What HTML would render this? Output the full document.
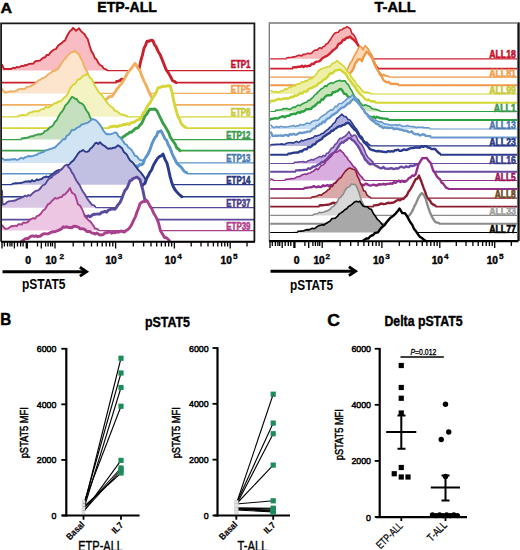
<!DOCTYPE html><html><head><meta charset="utf-8"><style>html,body{margin:0;padding:0;background:#fff;width:520px;height:550px;overflow:hidden}svg{display:block}text{font-family:"Liberation Sans",sans-serif}</style></head><body>
<svg width="520" height="550" viewBox="0 0 520 550">
<rect width="520" height="550" fill="#fff"/>
<text x="0.6" y="12.5" font-size="15" font-weight="bold" fill="#000" text-anchor="start" textLength="11.6" lengthAdjust="spacingAndGlyphs" stroke="#000" stroke-width="0.45" >A</text>
<text x="97.3" y="12.2" font-size="15" font-weight="bold" fill="#000" text-anchor="start" textLength="59.6" lengthAdjust="spacingAndGlyphs" stroke="#000" stroke-width="0.45" >ETP-ALL</text>
<text x="374.4" y="12.2" font-size="15" font-weight="bold" fill="#000" text-anchor="start" textLength="41.4" lengthAdjust="spacingAndGlyphs" stroke="#000" stroke-width="0.45" >T-ALL</text>
<path d="M2.0,70.6 L2.0,64.7 L4.0,69.0 L5.5,69.0 L7.0,69.0 L8.5,69.0 L10.0,69.0 L11.7,68.7 L13.3,67.7 L15.0,68.3 L16.7,66.9 L18.3,67.4 L20.0,66.8 L21.7,65.8 L23.3,66.2 L25.0,65.0 L26.7,65.3 L28.3,64.2 L30.0,63.9 L31.7,63.7 L33.3,63.6 L35.0,61.5 L36.7,60.9 L38.3,60.8 L40.0,60.6 L41.7,58.9 L43.4,57.5 L45.1,57.5 L46.8,54.8 L48.5,55.2 L50.0,53.0 L51.5,51.5 L53.0,50.3 L54.5,49.4 L56.0,49.1 L58.0,45.7 L60.0,44.1 L61.7,43.1 L63.3,41.4 L65.0,40.6 L66.7,36.7 L68.3,33.7 L70.0,31.0 L71.5,30.1 L73.0,27.9 L74.5,29.0 L76.0,30.8 L77.5,29.6 L79.0,28.3 L81.0,31.1 L83.0,32.9 L84.6,34.2 L86.1,37.0 L87.7,39.0 L89.6,45.7 L91.5,51.4 L93.2,53.9 L95.0,58.4 L96.5,59.3 L98.0,62.4 L99.9,65.0 L101.9,65.9 L103.8,68.5 L105.4,69.2 L106.9,69.9 L108.5,70.6 L108.5,70.6 Z" fill="#f8bcc2" stroke="none"/><path d="M2.0,70.6 L2.0,70.6 M108.5,70.6 L254.2,70.6 M106.9,70.6 L108.5,70.6" stroke="#c8202c" stroke-width="1.25" fill="none"/><path d="M2.0,64.7 L4.0,69.0 L5.5,69.0 L7.0,69.0 L8.5,69.0 L10.0,69.0 L11.7,68.7 L13.3,67.7 L15.0,68.3 L16.7,66.9 L18.3,67.4 L20.0,66.8 L21.7,65.8 L23.3,66.2 L25.0,65.0 L26.7,65.3 L28.3,64.2 L30.0,63.9 L31.7,63.7 L33.3,63.6 L35.0,61.5 L36.7,60.9 L38.3,60.8 L40.0,60.6 L41.7,58.9 L43.4,57.5 L45.1,57.5 L46.8,54.8 L48.5,55.2 L50.0,53.0 L51.5,51.5 L53.0,50.3 L54.5,49.4 L56.0,49.1 L58.0,45.7 L60.0,44.1 L61.7,43.1 L63.3,41.4 L65.0,40.6 L66.7,36.7 L68.3,33.7 L70.0,31.0 L71.5,30.1 L73.0,27.9 L74.5,29.0 L76.0,30.8 L77.5,29.6 L79.0,28.3 L81.0,31.1 L83.0,32.9 L84.6,34.2 L86.1,37.0 L87.7,39.0 L89.6,45.7 L91.5,51.4 L93.2,53.9 L95.0,58.4 L96.5,59.3 L98.0,62.4 L99.9,65.0 L101.9,65.9 L103.8,68.5 L105.4,69.2 L106.9,69.9" fill="none" stroke="#c8202c" stroke-width="1.9" stroke-linejoin="round" stroke-linecap="round"/>
<path d="M112.0,82.6 L112.0,82.6 L113.5,82.3 L115.0,82.0 L116.7,81.5 L118.3,81.1 L120.0,80.6 L121.7,79.1 L123.3,79.5 L125.0,79.0 L126.7,77.8 L128.3,77.5 L130.0,75.7 L131.7,75.7 L133.3,74.8 L135.0,74.1 L136.5,72.9 L138.0,72.6 L139.5,66.8 L141.0,60.0 L142.5,54.8 L144.0,48.2 L145.5,45.4 L147.0,41.3 L148.5,41.4 L150.0,40.6 L151.5,40.1 L153.0,40.8 L154.5,44.6 L156.0,46.6 L158.0,51.2 L160.0,54.4 L162.0,59.3 L164.0,64.2 L166.0,69.5 L168.0,72.3 L169.5,74.9 L171.0,77.5 L172.5,80.7 L174.2,81.3 L176.0,82.6 L176.0,82.6 Z" fill="#fff" stroke="none"/><path d="M2.0,82.6 L112.0,82.6 M176.0,82.6 L254.2,82.6 M112.0,82.6 L113.5,82.6 M113.5,82.6 L115.0,82.6 M115.0,82.6 L116.7,82.6" stroke="#c8202c" stroke-width="1.6" fill="none"/><path d="M116.7,81.5 L118.3,81.1 L120.0,80.6 L121.7,79.1 L123.3,79.5 L125.0,79.0 L126.7,77.8 L128.3,77.5 L130.0,75.7 L131.7,75.7 L133.3,74.8 L135.0,74.1 L136.5,72.9 L138.0,72.6 L139.5,66.8 L141.0,60.0 L142.5,54.8 L144.0,48.2 L145.5,45.4 L147.0,41.3 L148.5,41.4 L150.0,40.6 L151.5,40.1 L153.0,40.8 L154.5,44.6 L156.0,46.6 L158.0,51.2 L160.0,54.4 L162.0,59.3 L164.0,64.2 L166.0,69.5 L168.0,72.3 L169.5,74.9 L171.0,77.5 L172.5,80.7 L174.2,81.3 L176.0,82.6" fill="none" stroke="#c8202c" stroke-width="2.9" stroke-linejoin="round" stroke-linecap="round"/>
<path d="M2.0,93.4 L2.0,88.8 L3.5,91.0 L5.0,92.5 L6.7,92.2 L8.3,91.9 L10.0,91.5 L11.7,91.3 L13.3,91.6 L15.0,91.2 L16.7,90.8 L18.3,89.3 L20.0,89.1 L21.7,88.6 L23.3,89.1 L25.0,88.8 L26.7,87.0 L28.3,86.7 L30.0,86.4 L31.7,85.3 L33.3,84.6 L35.0,83.6 L36.7,81.9 L38.3,80.3 L40.0,79.9 L41.7,78.6 L43.3,77.8 L45.0,77.3 L46.7,75.7 L48.3,74.2 L50.0,73.2 L51.5,72.4 L53.1,70.4 L54.6,71.0 L56.2,69.9 L57.7,69.2 L59.2,67.0 L60.8,64.3 L62.3,62.3 L63.9,59.8 L65.4,58.7 L66.9,56.1 L68.5,54.6 L70.0,53.3 L71.5,52.4 L73.1,52.0 L74.6,50.7 L76.1,51.9 L77.7,53.5 L79.2,54.7 L80.7,58.2 L82.3,60.7 L83.8,65.3 L85.8,69.4 L87.7,73.2 L89.8,79.4 L92.0,85.5 L94.0,88.7 L96.0,92.0 L98.0,92.7 L100.0,93.4 L100.0,93.4 Z" fill="#fde4cc" stroke="none"/><path d="M2.0,93.4 L2.0,93.4 M100.0,93.4 L254.2,93.4 M98.0,93.4 L100.0,93.4" stroke="#f0b060" stroke-width="1.25" fill="none"/><path d="M2.0,88.8 L3.5,91.0 L5.0,92.5 L6.7,92.2 L8.3,91.9 L10.0,91.5 L11.7,91.3 L13.3,91.6 L15.0,91.2 L16.7,90.8 L18.3,89.3 L20.0,89.1 L21.7,88.6 L23.3,89.1 L25.0,88.8 L26.7,87.0 L28.3,86.7 L30.0,86.4 L31.7,85.3 L33.3,84.6 L35.0,83.6 L36.7,81.9 L38.3,80.3 L40.0,79.9 L41.7,78.6 L43.3,77.8 L45.0,77.3 L46.7,75.7 L48.3,74.2 L50.0,73.2 L51.5,72.4 L53.1,70.4 L54.6,71.0 L56.2,69.9 L57.7,69.2 L59.2,67.0 L60.8,64.3 L62.3,62.3 L63.9,59.8 L65.4,58.7 L66.9,56.1 L68.5,54.6 L70.0,53.3 L71.5,52.4 L73.1,52.0 L74.6,50.7 L76.1,51.9 L77.7,53.5 L79.2,54.7 L80.7,58.2 L82.3,60.7 L83.8,65.3 L85.8,69.4 L87.7,73.2 L89.8,79.4 L92.0,85.5 L94.0,88.7 L96.0,92.0 L98.0,92.7" fill="none" stroke="#f0b060" stroke-width="1.9" stroke-linejoin="round" stroke-linecap="round"/>
<path d="M45.0,104.9 L45.0,104.9 L46.7,104.8 L48.3,104.6 L50.0,104.5 L51.5,104.4 L53.0,104.3 L54.5,104.3 L56.0,104.2 L57.5,104.1 L59.0,104.0 L60.5,104.0 L62.0,103.9 L63.5,103.8 L65.0,103.8 L66.5,103.7 L68.0,103.6 L69.5,103.5 L71.0,103.5 L72.5,103.4 L74.0,103.3 L75.5,103.2 L77.0,103.2 L78.5,103.1 L80.0,103.0 L81.5,102.9 L83.1,102.2 L84.6,103.4 L86.2,103.6 L87.7,102.6 L89.2,102.5 L90.8,101.7 L92.3,101.7 L93.8,102.0 L95.4,101.8 L96.9,102.7 L98.5,101.5 L100.0,101.1 L102.0,102.3 L104.0,101.1 L105.6,99.2 L107.2,98.8 L108.8,96.8 L110.4,96.6 L112.0,96.3 L113.6,94.1 L115.2,91.9 L116.8,89.2 L118.4,87.5 L120.0,85.2 L121.5,83.8 L123.0,81.0 L124.5,79.0 L126.0,75.7 L128.0,72.2 L130.0,70.0 L131.7,68.0 L133.3,65.6 L135.0,63.3 L136.7,66.1 L138.3,68.9 L140.0,70.8 L141.7,75.5 L143.3,79.4 L145.0,83.0 L146.7,86.5 L148.3,90.5 L150.0,94.0 L151.7,97.3 L153.3,100.3 L155.0,101.9 L156.5,103.5 L158.0,104.9 L158.0,104.9 Z" fill="#fff" stroke="none"/><path d="M2.0,104.9 L45.0,104.9 M158.0,104.9 L254.2,104.9 M45.0,104.9 L46.7,104.9 M46.7,104.9 L48.3,104.9 M48.3,104.9 L50.0,104.9 M50.0,104.9 L51.5,104.9 M51.5,104.9 L53.0,104.9 M53.0,104.9 L54.5,104.9 M54.5,104.9 L56.0,104.9 M56.0,104.9 L57.5,104.9 M57.5,104.9 L59.0,104.9 M59.0,104.9 L60.5,104.9 M60.5,104.9 L62.0,104.9 M62.0,104.9 L63.5,104.9 M63.5,104.9 L65.0,104.9" stroke="#f0b060" stroke-width="1.6" fill="none"/><path d="M65.0,103.8 L66.5,103.7 L68.0,103.6 L69.5,103.5 L71.0,103.5 L72.5,103.4 L74.0,103.3 L75.5,103.2 L77.0,103.2 L78.5,103.1 L80.0,103.0 L81.5,102.9 L83.1,102.2 L84.6,103.4 L86.2,103.6 L87.7,102.6 L89.2,102.5 L90.8,101.7 L92.3,101.7 L93.8,102.0 L95.4,101.8 L96.9,102.7 L98.5,101.5 L100.0,101.1 L102.0,102.3 L104.0,101.1 L105.6,99.2 L107.2,98.8 L108.8,96.8 L110.4,96.6 L112.0,96.3 L113.6,94.1 L115.2,91.9 L116.8,89.2 L118.4,87.5 L120.0,85.2 L121.5,83.8 L123.0,81.0 L124.5,79.0 L126.0,75.7 L128.0,72.2 L130.0,70.0 L131.7,68.0 L133.3,65.6 L135.0,63.3 L136.7,66.1 L138.3,68.9 L140.0,70.8 L141.7,75.5 L143.3,79.4 L145.0,83.0 L146.7,86.5 L148.3,90.5 L150.0,94.0 L151.7,97.3 L153.3,100.3 L155.0,101.9 L156.5,103.5 L158.0,104.9" fill="none" stroke="#f0b060" stroke-width="2.9" stroke-linejoin="round" stroke-linecap="round"/>
<path d="M2.0,116.8 L2.0,116.8 L3.5,116.7 L5.0,116.6 L6.5,116.5 L8.0,116.4 L9.5,116.3 L11.0,116.2 L12.5,116.1 L14.0,116.0 L15.5,115.9 L17.0,115.8 L18.5,115.7 L20.0,115.6 L21.5,115.2 L23.0,114.8 L24.5,115.2 L26.0,114.9 L27.5,114.5 L29.0,113.0 L30.5,112.4 L32.0,112.0 L33.5,111.5 L35.0,111.2 L36.5,111.4 L38.0,111.3 L39.5,110.6 L41.0,109.4 L42.5,109.1 L44.0,108.8 L45.5,107.0 L47.0,107.4 L48.5,107.3 L50.0,106.5 L51.7,105.6 L53.3,104.3 L55.0,102.9 L56.7,103.2 L58.3,101.5 L60.0,101.5 L61.8,100.5 L63.6,98.1 L65.4,96.8 L66.9,95.2 L68.5,92.2 L70.0,88.6 L71.5,86.6 L73.1,84.7 L74.7,84.2 L76.2,82.1 L77.7,79.5 L79.2,79.4 L80.8,78.4 L82.3,76.5 L83.8,75.4 L85.4,75.2 L86.9,73.9 L88.4,75.0 L90.0,78.0 L91.5,78.8 L93.1,81.7 L94.6,85.6 L96.2,87.9 L98.1,91.2 L100.0,93.6 L101.5,94.6 L103.0,96.8 L104.5,99.0 L106.0,101.0 L108.0,103.9 L110.0,105.6 L111.5,107.1 L113.0,107.8 L114.5,110.5 L116.0,110.7 L117.5,111.8 L119.0,112.9 L120.5,114.4 L122.0,114.4 L123.7,115.0 L125.3,115.5 L127.0,116.0 L128.7,116.1 L130.3,116.3 L132.0,116.4 L133.7,116.5 L135.3,116.7 L137.0,116.8 L137.0,116.8 Z" fill="#f3f3c4" stroke="none"/><path d="M2.0,116.8 L2.0,116.8 M137.0,116.8 L254.2,116.8 M2.0,116.8 L3.5,116.8 M3.5,116.8 L5.0,116.8 M5.0,116.8 L6.5,116.8 M6.5,116.8 L8.0,116.8 M8.0,116.8 L9.5,116.8 M9.5,116.8 L11.0,116.8 M11.0,116.8 L12.5,116.8 M12.5,116.8 L14.0,116.8 M14.0,116.8 L15.5,116.8 M15.5,116.8 L17.0,116.8 M17.0,116.8 L18.5,116.8 M127.0,116.8 L128.7,116.8 M128.7,116.8 L130.3,116.8 M130.3,116.8 L132.0,116.8 M132.0,116.8 L133.7,116.8 M133.7,116.8 L135.3,116.8 M135.3,116.8 L137.0,116.8" stroke="#d6d638" stroke-width="1.25" fill="none"/><path d="M18.5,115.7 L20.0,115.6 L21.5,115.2 L23.0,114.8 L24.5,115.2 L26.0,114.9 L27.5,114.5 L29.0,113.0 L30.5,112.4 L32.0,112.0 L33.5,111.5 L35.0,111.2 L36.5,111.4 L38.0,111.3 L39.5,110.6 L41.0,109.4 L42.5,109.1 L44.0,108.8 L45.5,107.0 L47.0,107.4 L48.5,107.3 L50.0,106.5 L51.7,105.6 L53.3,104.3 L55.0,102.9 L56.7,103.2 L58.3,101.5 L60.0,101.5 L61.8,100.5 L63.6,98.1 L65.4,96.8 L66.9,95.2 L68.5,92.2 L70.0,88.6 L71.5,86.6 L73.1,84.7 L74.7,84.2 L76.2,82.1 L77.7,79.5 L79.2,79.4 L80.8,78.4 L82.3,76.5 L83.8,75.4 L85.4,75.2 L86.9,73.9 L88.4,75.0 L90.0,78.0 L91.5,78.8 L93.1,81.7 L94.6,85.6 L96.2,87.9 L98.1,91.2 L100.0,93.6 L101.5,94.6 L103.0,96.8 L104.5,99.0 L106.0,101.0 L108.0,103.9 L110.0,105.6 L111.5,107.1 L113.0,107.8 L114.5,110.5 L116.0,110.7 L117.5,111.8 L119.0,112.9 L120.5,114.4 L122.0,114.4 L123.7,115.0 L125.3,115.5 L127.0,116.0" fill="none" stroke="#d6d638" stroke-width="1.9" stroke-linejoin="round" stroke-linecap="round"/>
<path d="M50.0,128.1 L50.0,128.1 L51.5,128.1 L53.1,128.1 L54.6,128.0 L56.1,128.0 L57.6,128.0 L59.2,128.0 L60.7,128.0 L62.2,128.0 L63.8,127.9 L65.3,127.9 L66.8,127.9 L68.3,127.9 L69.9,127.9 L71.4,127.9 L72.9,127.8 L74.4,127.8 L76.0,127.8 L77.5,127.8 L79.0,127.8 L80.6,127.8 L82.1,127.8 L83.6,127.7 L85.1,127.7 L86.7,127.7 L88.2,127.7 L89.7,127.7 L91.2,127.7 L92.8,127.6 L94.3,127.6 L95.8,127.6 L97.4,127.6 L98.9,127.6 L100.4,127.5 L101.9,127.5 L103.5,127.5 L105.0,127.5 L106.5,127.3 L108.1,127.1 L109.6,126.9 L111.1,126.7 L112.7,126.5 L114.2,126.3 L115.7,126.1 L117.3,126.7 L118.8,125.8 L120.3,125.6 L121.9,125.4 L123.4,124.3 L124.9,124.9 L126.5,124.2 L128.0,123.7 L129.5,124.4 L131.0,122.6 L132.5,122.5 L134.0,122.2 L135.5,121.2 L137.0,120.1 L138.5,119.7 L140.0,119.1 L141.7,116.8 L143.3,113.0 L145.0,111.1 L146.7,107.7 L148.3,104.9 L150.0,103.0 L151.7,99.7 L153.3,96.9 L155.0,94.5 L156.5,91.7 L158.0,87.9 L160.0,87.5 L162.0,86.5 L164.0,86.3 L166.0,86.3 L168.0,85.7 L170.0,85.6 L172.0,92.0 L173.5,99.8 L175.0,106.4 L176.5,111.7 L178.0,116.8 L179.5,119.1 L181.0,123.1 L182.7,125.3 L184.3,126.6 L186.0,127.5 L188.0,127.8 L190.0,128.1 L190.0,128.1 Z" fill="#fff" stroke="none"/><path d="M2.0,128.1 L50.0,128.1 M190.0,128.1 L254.2,128.1 M50.0,128.1 L51.5,128.1 M51.5,128.1 L53.1,128.1 M53.1,128.1 L54.6,128.1 M54.6,128.1 L56.1,128.1 M56.1,128.1 L57.6,128.1 M57.6,128.1 L59.2,128.1 M59.2,128.1 L60.7,128.1 M60.7,128.1 L62.2,128.1 M62.2,128.1 L63.8,128.1 M63.8,128.1 L65.3,128.1 M65.3,128.1 L66.8,128.1 M66.8,128.1 L68.3,128.1 M68.3,128.1 L69.9,128.1 M69.9,128.1 L71.4,128.1 M71.4,128.1 L72.9,128.1 M72.9,128.1 L74.4,128.1 M74.4,128.1 L76.0,128.1 M76.0,128.1 L77.5,128.1 M77.5,128.1 L79.0,128.1 M79.0,128.1 L80.6,128.1 M80.6,128.1 L82.1,128.1 M82.1,128.1 L83.6,128.1 M83.6,128.1 L85.1,128.1 M85.1,128.1 L86.7,128.1 M86.7,128.1 L88.2,128.1 M88.2,128.1 L89.7,128.1 M89.7,128.1 L91.2,128.1 M91.2,128.1 L92.8,128.1 M92.8,128.1 L94.3,128.1 M94.3,128.1 L95.8,128.1 M95.8,128.1 L97.4,128.1 M97.4,128.1 L98.9,128.1 M98.9,128.1 L100.4,128.1 M100.4,128.1 L101.9,128.1 M101.9,128.1 L103.5,128.1 M103.5,128.1 L105.0,128.1 M105.0,128.1 L106.5,128.1 M106.5,128.1 L108.1,128.1 M108.1,128.1 L109.6,128.1 M186.0,128.1 L188.0,128.1 M188.0,128.1 L190.0,128.1" stroke="#d6d638" stroke-width="1.6" fill="none"/><path d="M109.6,126.9 L111.1,126.7 L112.7,126.5 L114.2,126.3 L115.7,126.1 L117.3,126.7 L118.8,125.8 L120.3,125.6 L121.9,125.4 L123.4,124.3 L124.9,124.9 L126.5,124.2 L128.0,123.7 L129.5,124.4 L131.0,122.6 L132.5,122.5 L134.0,122.2 L135.5,121.2 L137.0,120.1 L138.5,119.7 L140.0,119.1 L141.7,116.8 L143.3,113.0 L145.0,111.1 L146.7,107.7 L148.3,104.9 L150.0,103.0 L151.7,99.7 L153.3,96.9 L155.0,94.5 L156.5,91.7 L158.0,87.9 L160.0,87.5 L162.0,86.5 L164.0,86.3 L166.0,86.3 L168.0,85.7 L170.0,85.6 L172.0,92.0 L173.5,99.8 L175.0,106.4 L176.5,111.7 L178.0,116.8 L179.5,119.1 L181.0,123.1 L182.7,125.3 L184.3,126.6 L186.0,127.5" fill="none" stroke="#d6d638" stroke-width="2.9" stroke-linejoin="round" stroke-linecap="round"/>
<path d="M2.0,139.5 L2.0,139.2 L3.5,139.2 L5.0,139.1 L6.5,139.1 L8.0,139.0 L9.5,139.0 L11.0,138.9 L12.5,138.9 L14.0,138.9 L15.5,138.8 L17.0,138.8 L18.5,138.7 L20.0,138.7 L21.7,138.5 L23.3,138.2 L25.0,138.0 L26.7,137.8 L28.3,137.5 L30.0,136.6 L31.7,136.1 L33.3,136.2 L35.0,135.1 L36.7,134.9 L38.3,134.1 L40.0,134.7 L41.7,133.9 L43.3,133.2 L45.0,130.9 L46.7,130.6 L48.3,129.3 L50.0,127.1 L51.7,126.6 L53.3,124.9 L55.0,121.8 L56.8,120.2 L58.5,116.4 L60.2,113.7 L62.0,111.7 L63.7,109.1 L65.3,105.7 L67.0,103.9 L68.7,101.8 L70.3,99.2 L72.0,96.8 L73.5,97.5 L75.0,98.7 L76.7,99.0 L78.3,101.5 L80.0,102.9 L82.0,103.6 L84.0,105.7 L85.5,108.8 L87.0,111.3 L88.5,113.1 L90.0,117.4 L91.7,119.6 L93.3,122.5 L95.0,123.5 L96.7,126.0 L98.3,127.9 L100.0,131.5 L101.7,132.6 L103.3,134.3 L105.0,136.9 L106.7,137.8 L108.3,138.7 L110.0,139.5 L110.0,139.5 Z" fill="#c4e0bf" stroke="none"/><path d="M2.0,139.5 L2.0,139.5 M110.0,139.5 L254.2,139.5 M2.0,139.5 L3.5,139.5 M3.5,139.5 L5.0,139.5 M5.0,139.5 L6.5,139.5 M6.5,139.5 L8.0,139.5 M8.0,139.5 L9.5,139.5 M9.5,139.5 L11.0,139.5 M11.0,139.5 L12.5,139.5 M12.5,139.5 L14.0,139.5 M14.0,139.5 L15.5,139.5 M15.5,139.5 L17.0,139.5 M17.0,139.5 L18.5,139.5 M18.5,139.5 L20.0,139.5 M20.0,139.5 L21.7,139.5 M108.3,139.5 L110.0,139.5" stroke="#3aa048" stroke-width="1.25" fill="none"/><path d="M21.7,138.5 L23.3,138.2 L25.0,138.0 L26.7,137.8 L28.3,137.5 L30.0,136.6 L31.7,136.1 L33.3,136.2 L35.0,135.1 L36.7,134.9 L38.3,134.1 L40.0,134.7 L41.7,133.9 L43.3,133.2 L45.0,130.9 L46.7,130.6 L48.3,129.3 L50.0,127.1 L51.7,126.6 L53.3,124.9 L55.0,121.8 L56.8,120.2 L58.5,116.4 L60.2,113.7 L62.0,111.7 L63.7,109.1 L65.3,105.7 L67.0,103.9 L68.7,101.8 L70.3,99.2 L72.0,96.8 L73.5,97.5 L75.0,98.7 L76.7,99.0 L78.3,101.5 L80.0,102.9 L82.0,103.6 L84.0,105.7 L85.5,108.8 L87.0,111.3 L88.5,113.1 L90.0,117.4 L91.7,119.6 L93.3,122.5 L95.0,123.5 L96.7,126.0 L98.3,127.9 L100.0,131.5 L101.7,132.6 L103.3,134.3 L105.0,136.9 L106.7,137.8 L108.3,138.7" fill="none" stroke="#3aa048" stroke-width="1.9" stroke-linejoin="round" stroke-linecap="round"/>
<path d="M48.0,150.6 L48.0,150.5 L49.5,150.4 L51.0,150.2 L52.5,150.1 L54.0,150.0 L55.5,149.9 L57.0,149.8 L58.5,149.6 L60.0,149.5 L61.5,149.3 L63.1,149.1 L64.6,148.9 L66.2,148.7 L67.7,149.3 L69.2,148.9 L70.8,147.7 L72.3,147.3 L73.8,148.5 L75.4,147.7 L76.9,147.7 L78.5,146.5 L80.0,146.2 L81.5,147.0 L83.1,146.3 L84.6,145.3 L86.2,146.6 L87.7,145.7 L89.2,145.7 L90.8,144.1 L92.3,145.2 L93.8,143.5 L95.4,144.6 L96.9,143.5 L98.5,143.0 L100.0,143.1 L101.5,143.5 L103.0,142.0 L104.5,141.4 L106.0,141.8 L107.5,141.0 L109.0,140.5 L110.5,140.3 L112.0,139.8 L113.5,139.8 L115.0,139.7 L116.8,139.1 L118.5,139.5 L120.2,138.1 L122.0,138.0 L123.5,136.5 L125.0,135.8 L126.5,134.3 L128.0,133.8 L129.8,132.1 L131.5,132.2 L133.2,130.7 L135.0,128.8 L136.7,128.1 L138.3,127.6 L140.0,124.9 L141.5,123.8 L143.0,120.7 L145.0,116.0 L146.7,114.3 L148.3,111.3 L150.0,109.2 L151.5,109.1 L153.0,109.2 L155.0,109.0 L157.0,110.8 L158.5,114.0 L160.0,117.2 L161.5,120.2 L163.0,123.4 L165.0,126.2 L167.0,129.7 L168.7,132.8 L170.3,137.2 L172.0,139.6 L173.7,142.0 L175.3,144.4 L177.0,148.3 L178.5,149.1 L180.0,150.6 L180.0,150.6 Z" fill="#fff" stroke="none"/><path d="M2.0,150.6 L48.0,150.6 M180.0,150.6 L254.2,150.6 M48.0,150.6 L49.5,150.6 M49.5,150.6 L51.0,150.6 M51.0,150.6 L52.5,150.6 M52.5,150.6 L54.0,150.6 M54.0,150.6 L55.5,150.6 M55.5,150.6 L57.0,150.6 M57.0,150.6 L58.5,150.6 M58.5,150.6 L60.0,150.6" stroke="#3aa048" stroke-width="1.6" fill="none"/><path d="M60.0,149.5 L61.5,149.3 L63.1,149.1 L64.6,148.9 L66.2,148.7 L67.7,149.3 L69.2,148.9 L70.8,147.7 L72.3,147.3 L73.8,148.5 L75.4,147.7 L76.9,147.7 L78.5,146.5 L80.0,146.2 L81.5,147.0 L83.1,146.3 L84.6,145.3 L86.2,146.6 L87.7,145.7 L89.2,145.7 L90.8,144.1 L92.3,145.2 L93.8,143.5 L95.4,144.6 L96.9,143.5 L98.5,143.0 L100.0,143.1 L101.5,143.5 L103.0,142.0 L104.5,141.4 L106.0,141.8 L107.5,141.0 L109.0,140.5 L110.5,140.3 L112.0,139.8 L113.5,139.8 L115.0,139.7 L116.8,139.1 L118.5,139.5 L120.2,138.1 L122.0,138.0 L123.5,136.5 L125.0,135.8 L126.5,134.3 L128.0,133.8 L129.8,132.1 L131.5,132.2 L133.2,130.7 L135.0,128.8 L136.7,128.1 L138.3,127.6 L140.0,124.9 L141.5,123.8 L143.0,120.7 L145.0,116.0 L146.7,114.3 L148.3,111.3 L150.0,109.2 L151.5,109.1 L153.0,109.2 L155.0,109.0 L157.0,110.8 L158.5,114.0 L160.0,117.2 L161.5,120.2 L163.0,123.4 L165.0,126.2 L167.0,129.7 L168.7,132.8 L170.3,137.2 L172.0,139.6 L173.7,142.0 L175.3,144.4 L177.0,148.3 L178.5,149.1 L180.0,150.6" fill="none" stroke="#3aa048" stroke-width="2.9" stroke-linejoin="round" stroke-linecap="round"/>
<path d="M2.0,162.9 L2.0,158.2 L3.5,159.3 L5.0,160.0 L6.7,159.8 L8.3,159.7 L10.0,159.8 L11.7,159.1 L13.3,159.5 L15.0,159.0 L16.7,159.9 L18.3,159.6 L20.0,158.5 L21.7,157.7 L23.3,158.7 L25.0,157.2 L26.7,156.9 L28.3,156.0 L30.0,156.3 L31.7,156.2 L33.3,155.9 L35.0,155.1 L36.7,155.0 L38.3,153.4 L40.0,153.2 L41.7,152.3 L43.3,152.2 L45.0,150.9 L46.7,150.1 L48.3,149.8 L50.0,148.9 L51.7,148.7 L53.3,147.8 L55.0,147.5 L56.7,145.6 L58.3,144.1 L60.0,142.7 L61.7,140.6 L63.3,139.2 L65.0,139.2 L66.8,135.7 L68.5,134.9 L70.2,132.8 L72.0,129.8 L73.6,130.2 L75.2,129.4 L76.8,127.9 L78.4,127.2 L80.0,126.4 L81.6,124.4 L83.2,124.3 L84.8,123.5 L86.4,123.4 L88.0,122.5 L89.7,121.4 L91.3,119.8 L93.0,119.2 L94.5,119.6 L96.0,120.3 L98.0,122.3 L100.0,124.8 L101.7,127.5 L103.3,130.5 L105.0,132.6 L106.7,134.2 L108.3,134.0 L110.0,134.4 L111.7,133.8 L113.3,133.3 L115.0,132.3 L116.7,133.0 L118.3,136.0 L120.0,137.4 L121.7,139.3 L123.3,141.6 L125.0,144.1 L126.7,144.7 L128.3,147.5 L130.0,148.3 L131.7,150.2 L133.3,152.7 L135.0,155.8 L136.7,156.1 L138.3,158.4 L140.0,160.1 L141.7,160.1 L143.3,161.1 L145.0,162.0 L146.5,162.4 L148.0,162.9 L148.0,162.9 Z" fill="#d0e4f4" stroke="none"/><path d="M2.0,162.9 L2.0,162.9 M148.0,162.9 L254.2,162.9 M145.0,162.9 L146.5,162.9 M146.5,162.9 L148.0,162.9" stroke="#5c94cc" stroke-width="1.25" fill="none"/><path d="M2.0,158.2 L3.5,159.3 L5.0,160.0 L6.7,159.8 L8.3,159.7 L10.0,159.8 L11.7,159.1 L13.3,159.5 L15.0,159.0 L16.7,159.9 L18.3,159.6 L20.0,158.5 L21.7,157.7 L23.3,158.7 L25.0,157.2 L26.7,156.9 L28.3,156.0 L30.0,156.3 L31.7,156.2 L33.3,155.9 L35.0,155.1 L36.7,155.0 L38.3,153.4 L40.0,153.2 L41.7,152.3 L43.3,152.2 L45.0,150.9 L46.7,150.1 L48.3,149.8 L50.0,148.9 L51.7,148.7 L53.3,147.8 L55.0,147.5 L56.7,145.6 L58.3,144.1 L60.0,142.7 L61.7,140.6 L63.3,139.2 L65.0,139.2 L66.8,135.7 L68.5,134.9 L70.2,132.8 L72.0,129.8 L73.6,130.2 L75.2,129.4 L76.8,127.9 L78.4,127.2 L80.0,126.4 L81.6,124.4 L83.2,124.3 L84.8,123.5 L86.4,123.4 L88.0,122.5 L89.7,121.4 L91.3,119.8 L93.0,119.2 L94.5,119.6 L96.0,120.3 L98.0,122.3 L100.0,124.8 L101.7,127.5 L103.3,130.5 L105.0,132.6 L106.7,134.2 L108.3,134.0 L110.0,134.4 L111.7,133.8 L113.3,133.3 L115.0,132.3 L116.7,133.0 L118.3,136.0 L120.0,137.4 L121.7,139.3 L123.3,141.6 L125.0,144.1 L126.7,144.7 L128.3,147.5 L130.0,148.3 L131.7,150.2 L133.3,152.7 L135.0,155.8 L136.7,156.1 L138.3,158.4 L140.0,160.1 L141.7,160.1 L143.3,161.1 L145.0,162.0" fill="none" stroke="#5c94cc" stroke-width="1.9" stroke-linejoin="round" stroke-linecap="round"/>
<path d="M55.0,173.7 L55.0,173.7 L56.5,173.6 L58.0,173.6 L59.5,173.5 L61.0,173.5 L62.5,173.4 L64.0,173.4 L65.5,173.3 L67.0,173.2 L68.5,173.2 L70.0,173.1 L71.5,173.1 L73.0,173.0 L74.5,173.0 L76.0,172.9 L77.5,172.8 L79.0,172.8 L80.5,172.7 L82.0,172.7 L83.5,172.6 L85.0,172.6 L86.5,172.5 L88.0,172.5 L89.5,172.4 L91.0,172.3 L92.5,172.3 L94.0,172.2 L95.5,172.2 L97.0,172.1 L98.5,172.1 L100.0,172.0 L101.5,171.8 L103.0,171.4 L104.5,171.4 L106.0,171.5 L107.5,171.5 L109.0,171.0 L110.5,170.9 L112.0,169.6 L113.5,169.6 L115.0,169.6 L116.5,170.2 L118.0,169.2 L119.5,169.5 L121.0,168.3 L122.5,168.2 L124.0,168.4 L125.5,168.9 L127.0,168.7 L128.5,168.5 L130.0,167.6 L131.6,167.6 L133.2,167.1 L134.8,166.7 L136.4,165.7 L138.0,166.7 L139.7,164.5 L141.3,164.9 L143.0,163.8 L144.7,159.0 L146.3,156.6 L148.0,154.1 L150.0,149.5 L152.0,143.7 L153.5,140.5 L155.0,137.5 L156.5,136.0 L158.0,131.8 L159.5,131.9 L161.0,130.7 L163.0,134.7 L165.0,138.8 L166.7,140.6 L168.3,145.0 L170.0,147.7 L171.7,152.5 L173.3,156.3 L175.0,159.5 L176.7,163.0 L178.3,164.6 L180.0,166.1 L181.7,167.8 L183.3,170.3 L185.0,172.0 L186.7,172.6 L188.3,173.1 L190.0,173.7 L190.0,173.7 Z" fill="#fff" stroke="none"/><path d="M2.0,173.7 L55.0,173.7 M190.0,173.7 L254.2,173.7 M55.0,173.7 L56.5,173.7 M56.5,173.7 L58.0,173.7 M58.0,173.7 L59.5,173.7 M59.5,173.7 L61.0,173.7 M61.0,173.7 L62.5,173.7 M62.5,173.7 L64.0,173.7 M64.0,173.7 L65.5,173.7 M65.5,173.7 L67.0,173.7 M67.0,173.7 L68.5,173.7 M68.5,173.7 L70.0,173.7 M70.0,173.7 L71.5,173.7 M71.5,173.7 L73.0,173.7 M73.0,173.7 L74.5,173.7 M74.5,173.7 L76.0,173.7 M76.0,173.7 L77.5,173.7 M77.5,173.7 L79.0,173.7 M79.0,173.7 L80.5,173.7 M80.5,173.7 L82.0,173.7 M82.0,173.7 L83.5,173.7 M83.5,173.7 L85.0,173.7 M85.0,173.7 L86.5,173.7 M186.7,173.7 L188.3,173.7 M188.3,173.7 L190.0,173.7" stroke="#5c94cc" stroke-width="1.6" fill="none"/><path d="M86.5,172.5 L88.0,172.5 L89.5,172.4 L91.0,172.3 L92.5,172.3 L94.0,172.2 L95.5,172.2 L97.0,172.1 L98.5,172.1 L100.0,172.0 L101.5,171.8 L103.0,171.4 L104.5,171.4 L106.0,171.5 L107.5,171.5 L109.0,171.0 L110.5,170.9 L112.0,169.6 L113.5,169.6 L115.0,169.6 L116.5,170.2 L118.0,169.2 L119.5,169.5 L121.0,168.3 L122.5,168.2 L124.0,168.4 L125.5,168.9 L127.0,168.7 L128.5,168.5 L130.0,167.6 L131.6,167.6 L133.2,167.1 L134.8,166.7 L136.4,165.7 L138.0,166.7 L139.7,164.5 L141.3,164.9 L143.0,163.8 L144.7,159.0 L146.3,156.6 L148.0,154.1 L150.0,149.5 L152.0,143.7 L153.5,140.5 L155.0,137.5 L156.5,136.0 L158.0,131.8 L159.5,131.9 L161.0,130.7 L163.0,134.7 L165.0,138.8 L166.7,140.6 L168.3,145.0 L170.0,147.7 L171.7,152.5 L173.3,156.3 L175.0,159.5 L176.7,163.0 L178.3,164.6 L180.0,166.1 L181.7,167.8 L183.3,170.3 L185.0,172.0 L186.7,172.6" fill="none" stroke="#5c94cc" stroke-width="2.9" stroke-linejoin="round" stroke-linecap="round"/>
<path d="M2.0,184.7 L2.0,184.4 L3.5,184.3 L5.0,184.2 L6.5,184.1 L8.0,183.9 L9.5,183.8 L11.0,183.7 L12.5,183.6 L14.0,183.5 L15.5,183.3 L17.0,183.2 L18.5,183.1 L20.0,183.0 L21.5,182.8 L23.0,182.4 L24.5,181.9 L26.0,181.4 L27.5,181.5 L29.0,181.2 L30.5,181.9 L32.0,180.1 L33.5,181.2 L35.0,181.1 L36.7,179.3 L38.3,180.2 L40.0,179.2 L41.7,179.0 L43.3,177.4 L45.0,177.0 L46.7,176.5 L48.3,177.2 L50.0,176.0 L51.7,174.4 L53.3,173.5 L55.0,172.1 L56.8,170.8 L58.5,170.0 L60.2,170.5 L62.0,168.6 L63.6,168.8 L65.2,166.6 L66.8,165.7 L68.4,165.2 L70.0,163.6 L71.7,161.7 L73.3,160.6 L75.0,158.2 L76.7,155.8 L78.3,153.3 L80.0,151.5 L81.5,151.1 L83.0,149.9 L85.0,151.6 L87.0,151.9 L88.7,151.2 L90.3,148.8 L92.0,147.5 L93.5,145.7 L95.0,143.4 L96.7,142.7 L98.3,144.0 L100.0,142.2 L101.7,144.1 L103.3,145.2 L105.0,146.3 L106.7,147.8 L108.3,148.9 L110.0,148.3 L111.7,148.6 L113.3,147.7 L115.0,147.8 L116.5,146.6 L118.0,145.2 L120.0,146.6 L122.0,148.2 L123.7,151.7 L125.3,153.2 L127.0,154.9 L128.7,158.3 L130.3,160.7 L132.0,161.9 L133.7,163.6 L135.3,166.0 L137.0,168.1 L138.7,170.4 L140.3,171.9 L142.0,174.1 L143.7,176.4 L145.3,179.2 L147.0,182.0 L148.7,182.9 L150.3,183.6 L152.0,184.7 L152.0,184.7 Z" fill="#c2c0e2" stroke="none"/><path d="M2.0,184.7 L2.0,184.7 M152.0,184.7 L254.2,184.7 M2.0,184.7 L3.5,184.7 M3.5,184.7 L5.0,184.7 M5.0,184.7 L6.5,184.7 M6.5,184.7 L8.0,184.7 M8.0,184.7 L9.5,184.7 M9.5,184.7 L11.0,184.7 M11.0,184.7 L12.5,184.7 M150.3,184.7 L152.0,184.7" stroke="#2a3a8c" stroke-width="1.25" fill="none"/><path d="M12.5,183.6 L14.0,183.5 L15.5,183.3 L17.0,183.2 L18.5,183.1 L20.0,183.0 L21.5,182.8 L23.0,182.4 L24.5,181.9 L26.0,181.4 L27.5,181.5 L29.0,181.2 L30.5,181.9 L32.0,180.1 L33.5,181.2 L35.0,181.1 L36.7,179.3 L38.3,180.2 L40.0,179.2 L41.7,179.0 L43.3,177.4 L45.0,177.0 L46.7,176.5 L48.3,177.2 L50.0,176.0 L51.7,174.4 L53.3,173.5 L55.0,172.1 L56.8,170.8 L58.5,170.0 L60.2,170.5 L62.0,168.6 L63.6,168.8 L65.2,166.6 L66.8,165.7 L68.4,165.2 L70.0,163.6 L71.7,161.7 L73.3,160.6 L75.0,158.2 L76.7,155.8 L78.3,153.3 L80.0,151.5 L81.5,151.1 L83.0,149.9 L85.0,151.6 L87.0,151.9 L88.7,151.2 L90.3,148.8 L92.0,147.5 L93.5,145.7 L95.0,143.4 L96.7,142.7 L98.3,144.0 L100.0,142.2 L101.7,144.1 L103.3,145.2 L105.0,146.3 L106.7,147.8 L108.3,148.9 L110.0,148.3 L111.7,148.6 L113.3,147.7 L115.0,147.8 L116.5,146.6 L118.0,145.2 L120.0,146.6 L122.0,148.2 L123.7,151.7 L125.3,153.2 L127.0,154.9 L128.7,158.3 L130.3,160.7 L132.0,161.9 L133.7,163.6 L135.3,166.0 L137.0,168.1 L138.7,170.4 L140.3,171.9 L142.0,174.1 L143.7,176.4 L145.3,179.2 L147.0,182.0 L148.7,182.9 L150.3,183.6" fill="none" stroke="#2a3a8c" stroke-width="1.9" stroke-linejoin="round" stroke-linecap="round"/>
<path d="M30.0,196.7 L30.0,196.7 L31.5,196.7 L33.0,196.7 L34.5,196.7 L36.0,196.7 L37.5,196.7 L39.0,196.7 L40.5,196.7 L42.0,196.7 L43.5,196.7 L45.0,196.7 L46.5,196.7 L48.0,196.7 L49.5,196.7 L51.0,196.7 L52.5,196.6 L54.0,196.6 L55.5,196.6 L57.0,196.6 L58.5,196.6 L60.0,196.6 L61.5,196.6 L63.0,196.6 L64.5,196.6 L66.0,196.6 L67.5,196.6 L69.0,196.6 L70.5,196.6 L72.0,196.6 L73.5,196.6 L75.0,196.6 L76.5,196.6 L78.0,196.6 L79.5,196.6 L81.0,196.6 L82.5,196.6 L84.0,196.6 L85.5,196.6 L87.0,196.6 L88.5,196.6 L90.0,196.6 L91.5,196.6 L93.0,196.6 L94.5,196.6 L96.0,196.6 L97.5,196.6 L99.0,196.5 L100.5,196.5 L102.0,196.5 L103.5,196.5 L105.0,196.5 L106.5,196.5 L108.0,196.5 L109.5,196.5 L111.0,196.5 L112.5,196.5 L114.0,196.5 L115.5,196.5 L117.0,196.5 L118.5,196.5 L120.0,196.5 L121.5,196.4 L123.0,196.2 L124.5,196.1 L126.0,196.0 L127.5,195.9 L129.0,195.8 L130.5,195.6 L132.0,195.5 L133.5,194.5 L135.0,193.6 L136.5,192.9 L138.0,191.8 L140.0,189.2 L142.0,186.2 L143.5,184.3 L145.0,183.3 L146.7,178.3 L148.3,175.5 L150.0,172.2 L151.7,169.7 L153.3,165.5 L155.0,162.6 L156.5,160.0 L158.0,157.8 L159.7,156.4 L161.3,155.8 L163.0,154.1 L165.0,159.4 L167.0,163.1 L168.5,169.2 L170.0,176.4 L171.5,181.7 L173.0,186.0 L175.0,189.7 L177.0,192.1 L178.7,194.0 L180.3,195.5 L182.0,196.7 L182.0,196.7 Z" fill="#fff" stroke="none"/><path d="M2.0,196.7 L30.0,196.7 M182.0,196.7 L254.2,196.7 M30.0,196.7 L31.5,196.7 M31.5,196.7 L33.0,196.7 M33.0,196.7 L34.5,196.7 M34.5,196.7 L36.0,196.7 M36.0,196.7 L37.5,196.7 M37.5,196.7 L39.0,196.7 M39.0,196.7 L40.5,196.7 M40.5,196.7 L42.0,196.7 M42.0,196.7 L43.5,196.7 M43.5,196.7 L45.0,196.7 M45.0,196.7 L46.5,196.7 M46.5,196.7 L48.0,196.7 M48.0,196.7 L49.5,196.7 M49.5,196.7 L51.0,196.7 M51.0,196.7 L52.5,196.7 M52.5,196.7 L54.0,196.7 M54.0,196.7 L55.5,196.7 M55.5,196.7 L57.0,196.7 M57.0,196.7 L58.5,196.7 M58.5,196.7 L60.0,196.7 M60.0,196.7 L61.5,196.7 M61.5,196.7 L63.0,196.7 M63.0,196.7 L64.5,196.7 M64.5,196.7 L66.0,196.7 M66.0,196.7 L67.5,196.7 M67.5,196.7 L69.0,196.7 M69.0,196.7 L70.5,196.7 M70.5,196.7 L72.0,196.7 M72.0,196.7 L73.5,196.7 M73.5,196.7 L75.0,196.7 M75.0,196.7 L76.5,196.7 M76.5,196.7 L78.0,196.7 M78.0,196.7 L79.5,196.7 M79.5,196.7 L81.0,196.7 M81.0,196.7 L82.5,196.7 M82.5,196.7 L84.0,196.7 M84.0,196.7 L85.5,196.7 M85.5,196.7 L87.0,196.7 M87.0,196.7 L88.5,196.7 M88.5,196.7 L90.0,196.7 M90.0,196.7 L91.5,196.7 M91.5,196.7 L93.0,196.7 M93.0,196.7 L94.5,196.7 M94.5,196.7 L96.0,196.7 M96.0,196.7 L97.5,196.7 M97.5,196.7 L99.0,196.7 M99.0,196.7 L100.5,196.7 M100.5,196.7 L102.0,196.7 M102.0,196.7 L103.5,196.7 M103.5,196.7 L105.0,196.7 M105.0,196.7 L106.5,196.7 M106.5,196.7 L108.0,196.7 M108.0,196.7 L109.5,196.7 M109.5,196.7 L111.0,196.7 M111.0,196.7 L112.5,196.7 M112.5,196.7 L114.0,196.7 M114.0,196.7 L115.5,196.7 M115.5,196.7 L117.0,196.7 M117.0,196.7 L118.5,196.7 M118.5,196.7 L120.0,196.7 M120.0,196.7 L121.5,196.7 M121.5,196.7 L123.0,196.7 M123.0,196.7 L124.5,196.7 M124.5,196.7 L126.0,196.7 M126.0,196.7 L127.5,196.7 M127.5,196.7 L129.0,196.7 M129.0,196.7 L130.5,196.7 M130.5,196.7 L132.0,196.7" stroke="#2a3a8c" stroke-width="1.6" fill="none"/><path d="M132.0,195.5 L133.5,194.5 L135.0,193.6 L136.5,192.9 L138.0,191.8 L140.0,189.2 L142.0,186.2 L143.5,184.3 L145.0,183.3 L146.7,178.3 L148.3,175.5 L150.0,172.2 L151.7,169.7 L153.3,165.5 L155.0,162.6 L156.5,160.0 L158.0,157.8 L159.7,156.4 L161.3,155.8 L163.0,154.1 L165.0,159.4 L167.0,163.1 L168.5,169.2 L170.0,176.4 L171.5,181.7 L173.0,186.0 L175.0,189.7 L177.0,192.1 L178.7,194.0 L180.3,195.5 L182.0,196.7" fill="none" stroke="#2a3a8c" stroke-width="2.9" stroke-linejoin="round" stroke-linecap="round"/>
<path d="M2.0,207.7 L2.0,190.8 L2.5,204.6 L4.0,204.2 L5.5,203.9 L7.0,202.2 L8.5,201.5 L10.0,201.1 L11.7,201.1 L13.3,200.8 L15.0,200.6 L16.7,199.6 L18.3,198.8 L20.0,198.4 L21.7,197.3 L23.3,197.0 L25.0,195.6 L26.7,196.5 L28.3,195.0 L30.0,195.8 L31.6,194.3 L33.2,192.7 L34.8,191.5 L36.4,190.7 L38.0,190.4 L39.8,189.1 L41.5,186.6 L43.2,185.1 L45.0,184.4 L46.5,182.3 L48.0,179.8 L49.8,178.2 L51.5,177.6 L53.2,175.2 L55.0,174.4 L56.7,173.1 L58.3,172.4 L60.0,170.3 L61.7,169.4 L63.3,167.3 L65.0,165.5 L67.0,164.5 L68.5,167.3 L70.0,168.4 L72.0,172.6 L73.5,174.6 L75.0,177.9 L76.5,180.8 L78.0,182.9 L79.7,185.2 L81.3,188.6 L83.0,191.8 L85.0,194.5 L87.0,198.2 L88.7,200.6 L90.3,202.6 L92.0,204.9 L93.7,205.1 L95.3,206.7 L97.0,207.7 L97.0,207.7 Z" fill="#d9c6e4" stroke="none"/><path d="M2.0,207.7 L2.0,207.7 M97.0,207.7 L254.2,207.7 M95.3,207.7 L97.0,207.7" stroke="#5a4a9c" stroke-width="1.25" fill="none"/><path d="M2.0,190.8 L2.5,204.6 L4.0,204.2 L5.5,203.9 L7.0,202.2 L8.5,201.5 L10.0,201.1 L11.7,201.1 L13.3,200.8 L15.0,200.6 L16.7,199.6 L18.3,198.8 L20.0,198.4 L21.7,197.3 L23.3,197.0 L25.0,195.6 L26.7,196.5 L28.3,195.0 L30.0,195.8 L31.6,194.3 L33.2,192.7 L34.8,191.5 L36.4,190.7 L38.0,190.4 L39.8,189.1 L41.5,186.6 L43.2,185.1 L45.0,184.4 L46.5,182.3 L48.0,179.8 L49.8,178.2 L51.5,177.6 L53.2,175.2 L55.0,174.4 L56.7,173.1 L58.3,172.4 L60.0,170.3 L61.7,169.4 L63.3,167.3 L65.0,165.5 L67.0,164.5 L68.5,167.3 L70.0,168.4 L72.0,172.6 L73.5,174.6 L75.0,177.9 L76.5,180.8 L78.0,182.9 L79.7,185.2 L81.3,188.6 L83.0,191.8 L85.0,194.5 L87.0,198.2 L88.7,200.6 L90.3,202.6 L92.0,204.9 L93.7,205.1 L95.3,206.7" fill="none" stroke="#5a4a9c" stroke-width="1.9" stroke-linejoin="round" stroke-linecap="round"/>
<path d="M35.0,219.6 L35.0,219.6 L36.6,219.5 L38.1,219.5 L39.7,219.4 L41.2,219.3 L42.8,219.3 L44.4,219.2 L45.9,219.1 L47.5,219.1 L49.1,219.0 L50.6,218.9 L52.2,218.8 L53.8,218.8 L55.3,218.7 L56.9,218.6 L58.4,218.6 L60.0,218.5 L61.5,218.4 L63.1,218.3 L64.6,218.2 L66.2,218.0 L67.7,217.9 L69.2,217.8 L70.8,217.7 L72.3,218.1 L73.8,217.9 L75.4,217.4 L76.9,216.7 L78.5,218.0 L80.0,216.7 L81.7,217.4 L83.3,216.2 L85.0,216.0 L86.7,216.8 L88.3,215.8 L90.0,216.8 L91.7,215.5 L93.3,214.5 L95.0,214.2 L96.7,214.1 L98.3,214.0 L100.0,214.1 L101.7,212.2 L103.3,212.1 L105.0,211.3 L106.7,212.2 L108.3,210.2 L110.0,209.6 L111.7,209.0 L113.3,208.9 L115.0,209.2 L116.7,206.9 L118.3,204.4 L120.0,202.6 L121.7,198.9 L123.3,194.3 L125.0,190.4 L126.7,188.6 L128.3,185.1 L130.0,180.7 L131.5,180.4 L133.0,178.5 L135.0,177.8 L137.0,177.0 L138.5,178.3 L140.0,179.6 L141.5,185.4 L143.0,190.7 L145.0,200.8 L147.0,209.3 L149.0,217.8 L151.0,219.6 L151.0,219.6 Z" fill="#fff" stroke="none"/><path d="M2.0,219.6 L35.0,219.6 M151.0,219.6 L254.2,219.6 M35.0,219.6 L36.6,219.6 M36.6,219.6 L38.1,219.6 M38.1,219.6 L39.7,219.6 M39.7,219.6 L41.2,219.6 M41.2,219.6 L42.8,219.6 M42.8,219.6 L44.4,219.6 M44.4,219.6 L45.9,219.6 M45.9,219.6 L47.5,219.6 M47.5,219.6 L49.1,219.6 M49.1,219.6 L50.6,219.6 M50.6,219.6 L52.2,219.6 M52.2,219.6 L53.8,219.6 M53.8,219.6 L55.3,219.6 M55.3,219.6 L56.9,219.6 M56.9,219.6 L58.4,219.6 M58.4,219.6 L60.0,219.6" stroke="#5a4a9c" stroke-width="1.6" fill="none"/><path d="M60.0,218.5 L61.5,218.4 L63.1,218.3 L64.6,218.2 L66.2,218.0 L67.7,217.9 L69.2,217.8 L70.8,217.7 L72.3,218.1 L73.8,217.9 L75.4,217.4 L76.9,216.7 L78.5,218.0 L80.0,216.7 L81.7,217.4 L83.3,216.2 L85.0,216.0 L86.7,216.8 L88.3,215.8 L90.0,216.8 L91.7,215.5 L93.3,214.5 L95.0,214.2 L96.7,214.1 L98.3,214.0 L100.0,214.1 L101.7,212.2 L103.3,212.1 L105.0,211.3 L106.7,212.2 L108.3,210.2 L110.0,209.6 L111.7,209.0 L113.3,208.9 L115.0,209.2 L116.7,206.9 L118.3,204.4 L120.0,202.6 L121.7,198.9 L123.3,194.3 L125.0,190.4 L126.7,188.6 L128.3,185.1 L130.0,180.7 L131.5,180.4 L133.0,178.5 L135.0,177.8 L137.0,177.0 L138.5,178.3 L140.0,179.6 L141.5,185.4 L143.0,190.7 L145.0,200.8 L147.0,209.3 L149.0,217.8 L151.0,219.6" fill="none" stroke="#5a4a9c" stroke-width="2.9" stroke-linejoin="round" stroke-linecap="round"/>
<path d="M2.0,230.6 L2.0,225.3 L3.5,227.0 L5.0,228.7 L6.7,228.8 L8.3,228.3 L10.0,227.1 L11.7,226.0 L13.3,226.2 L15.0,225.6 L16.7,226.1 L18.3,224.3 L20.0,224.1 L21.7,224.6 L23.3,222.5 L25.0,222.7 L26.7,222.6 L28.3,221.7 L30.0,219.6 L31.7,218.8 L33.3,218.0 L35.0,218.8 L36.8,216.1 L38.5,215.6 L40.2,214.4 L42.0,212.0 L43.5,210.0 L45.0,209.3 L46.5,206.7 L48.0,204.2 L49.8,203.5 L51.5,201.4 L53.2,199.8 L55.0,197.9 L56.7,198.6 L58.3,198.3 L60.0,197.1 L61.7,197.1 L63.3,194.8 L65.0,194.5 L66.5,192.6 L68.0,191.0 L70.0,188.1 L72.0,192.8 L73.5,193.6 L75.0,194.9 L76.5,199.3 L78.0,204.4 L80.0,205.5 L82.0,209.0 L83.5,212.7 L85.0,216.6 L86.7,218.3 L88.3,219.9 L90.0,221.2 L91.7,223.3 L93.3,225.6 L95.0,228.5 L96.7,228.9 L98.3,229.7 L100.0,230.6 L100.0,230.6 Z" fill="#ecc6e2" stroke="none"/><path d="M2.0,230.6 L2.0,230.6 M100.0,230.6 L254.2,230.6 M98.3,230.6 L100.0,230.6" stroke="#a8408c" stroke-width="1.25" fill="none"/><path d="M2.0,225.3 L3.5,227.0 L5.0,228.7 L6.7,228.8 L8.3,228.3 L10.0,227.1 L11.7,226.0 L13.3,226.2 L15.0,225.6 L16.7,226.1 L18.3,224.3 L20.0,224.1 L21.7,224.6 L23.3,222.5 L25.0,222.7 L26.7,222.6 L28.3,221.7 L30.0,219.6 L31.7,218.8 L33.3,218.0 L35.0,218.8 L36.8,216.1 L38.5,215.6 L40.2,214.4 L42.0,212.0 L43.5,210.0 L45.0,209.3 L46.5,206.7 L48.0,204.2 L49.8,203.5 L51.5,201.4 L53.2,199.8 L55.0,197.9 L56.7,198.6 L58.3,198.3 L60.0,197.1 L61.7,197.1 L63.3,194.8 L65.0,194.5 L66.5,192.6 L68.0,191.0 L70.0,188.1 L72.0,192.8 L73.5,193.6 L75.0,194.9 L76.5,199.3 L78.0,204.4 L80.0,205.5 L82.0,209.0 L83.5,212.7 L85.0,216.6 L86.7,218.3 L88.3,219.9 L90.0,221.2 L91.7,223.3 L93.3,225.6 L95.0,228.5 L96.7,228.9 L98.3,229.7" fill="none" stroke="#a8408c" stroke-width="1.9" stroke-linejoin="round" stroke-linecap="round"/>
<path d="M20.0,241.8 L20.0,241.8 L21.7,241.1 L23.3,240.3 L25.0,238.8 L26.7,238.3 L28.3,238.5 L30.0,236.8 L31.5,236.2 L33.0,235.9 L34.5,236.5 L36.0,235.8 L37.5,236.7 L39.0,236.3 L40.5,236.1 L42.0,234.6 L43.5,233.9 L45.0,233.7 L46.7,233.9 L48.3,233.8 L50.0,232.9 L51.7,232.0 L53.3,231.8 L55.0,231.7 L56.7,231.0 L58.3,230.3 L60.0,229.7 L61.7,228.6 L63.3,226.8 L65.0,227.3 L66.7,226.7 L68.3,227.5 L70.0,227.5 L71.7,227.8 L73.3,226.5 L75.0,226.2 L76.8,226.7 L78.5,227.1 L80.2,228.9 L82.0,228.8 L83.6,229.0 L85.2,229.8 L86.8,231.6 L88.4,231.4 L90.0,231.5 L91.7,233.0 L93.3,233.1 L95.0,234.1 L96.7,233.0 L98.3,234.0 L100.0,235.1 L101.7,234.8 L103.3,234.6 L105.0,232.7 L106.7,232.8 L108.3,232.1 L110.0,231.9 L111.7,233.2 L113.3,232.3 L115.0,232.8 L116.7,231.6 L118.3,232.3 L120.0,231.4 L121.5,231.0 L123.0,231.8 L124.5,232.1 L126.0,230.5 L127.6,229.8 L129.2,228.3 L130.8,226.0 L132.3,223.2 L133.9,219.7 L135.4,216.8 L136.9,212.3 L138.5,208.3 L140.0,203.8 L141.5,202.4 L143.1,201.6 L144.6,201.6 L146.2,200.1 L147.7,201.8 L149.2,204.7 L152.0,209.1 L153.7,213.2 L155.4,215.9 L156.9,218.9 L158.5,222.8 L160.5,230.8 L162.6,234.2 L164.6,237.6 L166.2,237.7 L167.8,238.9 L169.4,240.7 L171.0,241.8 L171.0,241.8 Z" fill="#fff" stroke="none"/><path d="M2.0,241.8 L20.0,241.8 M171.0,241.8 L254.2,241.8 M20.0,241.8 L21.7,241.8 M169.4,241.8 L171.0,241.8" stroke="#a8408c" stroke-width="1.6" fill="none"/><path d="M21.7,241.1 L23.3,240.3 L25.0,238.8 L26.7,238.3 L28.3,238.5 L30.0,236.8 L31.5,236.2 L33.0,235.9 L34.5,236.5 L36.0,235.8 L37.5,236.7 L39.0,236.3 L40.5,236.1 L42.0,234.6 L43.5,233.9 L45.0,233.7 L46.7,233.9 L48.3,233.8 L50.0,232.9 L51.7,232.0 L53.3,231.8 L55.0,231.7 L56.7,231.0 L58.3,230.3 L60.0,229.7 L61.7,228.6 L63.3,226.8 L65.0,227.3 L66.7,226.7 L68.3,227.5 L70.0,227.5 L71.7,227.8 L73.3,226.5 L75.0,226.2 L76.8,226.7 L78.5,227.1 L80.2,228.9 L82.0,228.8 L83.6,229.0 L85.2,229.8 L86.8,231.6 L88.4,231.4 L90.0,231.5 L91.7,233.0 L93.3,233.1 L95.0,234.1 L96.7,233.0 L98.3,234.0 L100.0,235.1 L101.7,234.8 L103.3,234.6 L105.0,232.7 L106.7,232.8 L108.3,232.1 L110.0,231.9 L111.7,233.2 L113.3,232.3 L115.0,232.8 L116.7,231.6 L118.3,232.3 L120.0,231.4 L121.5,231.0 L123.0,231.8 L124.5,232.1 L126.0,230.5 L127.6,229.8 L129.2,228.3 L130.8,226.0 L132.3,223.2 L133.9,219.7 L135.4,216.8 L136.9,212.3 L138.5,208.3 L140.0,203.8 L141.5,202.4 L143.1,201.6 L144.6,201.6 L146.2,200.1 L147.7,201.8 L149.2,204.7 L152.0,209.1 L153.7,213.2 L155.4,215.9 L156.9,218.9 L158.5,222.8 L160.5,230.8 L162.6,234.2 L164.6,237.6 L166.2,237.7 L167.8,238.9 L169.4,240.7" fill="none" stroke="#a8408c" stroke-width="2.9" stroke-linejoin="round" stroke-linecap="round"/>
<text x="250.5" y="67.69999999999999" font-size="10.5" font-weight="bold" fill="#c8102e" text-anchor="end" textLength="19.8" lengthAdjust="spacingAndGlyphs" stroke="#c8102e" stroke-width="0.55" >ETP1</text>
<text x="250.5" y="92.5" font-size="10.5" font-weight="bold" fill="#f0a050" text-anchor="end" textLength="19.8" lengthAdjust="spacingAndGlyphs" stroke="#f0a050" stroke-width="0.55" >ETP5</text>
<text x="250.5" y="115.89999999999999" font-size="10.5" font-weight="bold" fill="#c8c838" text-anchor="end" textLength="19.8" lengthAdjust="spacingAndGlyphs" stroke="#c8c838" stroke-width="0.55" >ETP8</text>
<text x="250.5" y="138.6" font-size="10.5" font-weight="bold" fill="#3a9a4a" text-anchor="end" textLength="24.2" lengthAdjust="spacingAndGlyphs" stroke="#3a9a4a" stroke-width="0.55" >ETP12</text>
<text x="250.5" y="162.0" font-size="10.5" font-weight="bold" fill="#4a78b0" text-anchor="end" textLength="24.2" lengthAdjust="spacingAndGlyphs" stroke="#4a78b0" stroke-width="0.55" >ETP13</text>
<text x="250.5" y="183.79999999999998" font-size="10.5" font-weight="bold" fill="#2a3580" text-anchor="end" textLength="24.2" lengthAdjust="spacingAndGlyphs" stroke="#2a3580" stroke-width="0.55" >ETP14</text>
<text x="250.5" y="206.79999999999998" font-size="10.5" font-weight="bold" fill="#4a3a8a" text-anchor="end" textLength="24.2" lengthAdjust="spacingAndGlyphs" stroke="#4a3a8a" stroke-width="0.55" >ETP37</text>
<text x="250.5" y="229.7" font-size="10.5" font-weight="bold" fill="#b0408a" text-anchor="end" textLength="24.2" lengthAdjust="spacingAndGlyphs" stroke="#b0408a" stroke-width="0.55" >ETP39</text>
<path d="M1.1,241.8 L1.1,23.4 L254.4,23.4 L254.4,241.8" fill="none" stroke="#1a1a1a" stroke-width="1.8"/>
<line x1="1" y1="241.8" x2="255" y2="241.8" stroke="#000" stroke-width="2"/>
<path d="M271.0,58.8 L271.0,58.6 L272.6,58.5 L274.2,58.4 L275.8,58.3 L277.3,58.2 L278.9,58.1 L280.5,58.0 L282.1,58.0 L283.7,57.9 L285.2,57.8 L286.8,57.7 L288.4,57.6 L290.0,57.5 L291.7,57.2 L293.3,56.8 L295.0,56.9 L296.7,56.0 L298.3,55.4 L300.0,55.2 L301.7,55.9 L303.3,54.3 L305.0,54.4 L306.7,53.6 L308.3,53.3 L310.0,53.7 L311.8,53.1 L313.5,51.1 L315.2,50.0 L317.0,50.1 L318.5,48.6 L320.0,47.7 L321.5,48.7 L323.0,46.7 L324.5,46.2 L326.0,44.3 L327.7,43.5 L329.3,41.0 L331.0,38.7 L333.0,35.3 L335.0,33.1 L336.7,32.5 L338.3,32.2 L340.0,30.0 L342.0,29.7 L344.0,28.1 L345.5,27.8 L347.0,26.6 L348.7,27.7 L350.4,28.9 L352.0,33.8 L353.8,34.8 L355.6,38.1 L357.3,42.7 L359.0,47.0 L360.5,47.1 L362.0,48.3 L364.0,52.0 L366.0,54.4 L368.0,55.5 L370.0,57.5 L371.5,58.1 L373.0,58.8 L373.0,58.8 Z" fill="#f6b8b8" stroke="none"/><path d="M270.2,58.8 L271.0,58.8 M373.0,58.8 L518.0,58.8 M271.0,58.8 L272.6,58.8 M272.6,58.8 L274.2,58.8 M274.2,58.8 L275.8,58.8 M275.8,58.8 L277.3,58.8 M277.3,58.8 L278.9,58.8 M278.9,58.8 L280.5,58.8 M280.5,58.8 L282.1,58.8 M282.1,58.8 L283.7,58.8 M283.7,58.8 L285.2,58.8 M285.2,58.8 L286.8,58.8 M371.5,58.8 L373.0,58.8" stroke="#d02030" stroke-width="1.2" fill="none"/><path d="M286.8,57.7 L288.4,57.6 L290.0,57.5 L291.7,57.2 L293.3,56.8 L295.0,56.9 L296.7,56.0 L298.3,55.4 L300.0,55.2 L301.7,55.9 L303.3,54.3 L305.0,54.4 L306.7,53.6 L308.3,53.3 L310.0,53.7 L311.8,53.1 L313.5,51.1 L315.2,50.0 L317.0,50.1 L318.5,48.6 L320.0,47.7 L321.5,48.7 L323.0,46.7 L324.5,46.2 L326.0,44.3 L327.7,43.5 L329.3,41.0 L331.0,38.7 L333.0,35.3 L335.0,33.1 L336.7,32.5 L338.3,32.2 L340.0,30.0 L342.0,29.7 L344.0,28.1 L345.5,27.8 L347.0,26.6 L348.7,27.7 L350.4,28.9 L352.0,33.8 L353.8,34.8 L355.6,38.1 L357.3,42.7 L359.0,47.0 L360.5,47.1 L362.0,48.3 L364.0,52.0 L366.0,54.4 L368.0,55.5 L370.0,57.5 L371.5,58.1" fill="none" stroke="#d02030" stroke-width="1.6" stroke-linejoin="round" stroke-linecap="round"/>
<path d="M271.0,68.6 L271.0,68.6 L272.6,68.5 L274.2,68.5 L275.8,68.4 L277.3,68.3 L278.9,68.3 L280.5,68.2 L282.1,68.1 L283.7,68.1 L285.2,68.0 L286.8,67.9 L288.4,67.9 L290.0,67.8 L291.5,67.6 L293.0,67.5 L294.5,67.3 L296.0,67.2 L297.5,67.0 L299.0,66.8 L300.5,66.7 L302.0,65.7 L303.6,67.0 L305.2,65.8 L306.8,66.5 L308.4,65.8 L310.0,65.9 L311.8,63.8 L313.5,64.1 L315.2,62.2 L317.0,61.6 L318.8,61.4 L320.5,60.4 L322.2,58.2 L324.0,57.3 L325.8,56.4 L327.5,55.5 L329.2,54.1 L331.0,52.4 L333.0,50.3 L335.0,48.9 L336.7,47.5 L338.3,44.2 L340.0,43.4 L341.5,42.4 L343.1,39.8 L344.6,39.9 L346.3,37.8 L348.0,37.8 L350.0,36.5 L351.5,38.3 L353.0,39.1 L354.5,40.7 L356.0,42.3 L357.8,44.7 L359.6,47.7 L361.2,49.0 L362.8,50.6 L364.4,51.5 L366.0,54.2 L367.5,56.0 L369.0,57.5 L370.5,60.5 L372.0,62.5 L373.5,63.6 L375.0,64.7 L376.5,66.9 L378.0,68.6 L378.0,68.6 Z" fill="#fff" stroke="none"/><path d="M270.2,68.6 L271.0,68.6 M378.0,68.6 L518.0,68.6 M271.0,68.6 L272.6,68.6 M272.6,68.6 L274.2,68.6 M274.2,68.6 L275.8,68.6 M275.8,68.6 L277.3,68.6 M277.3,68.6 L278.9,68.6 M278.9,68.6 L280.5,68.6 M280.5,68.6 L282.1,68.6 M282.1,68.6 L283.7,68.6 M283.7,68.6 L285.2,68.6 M285.2,68.6 L286.8,68.6 M286.8,68.6 L288.4,68.6 M288.4,68.6 L290.0,68.6 M290.0,68.6 L291.5,68.6 M291.5,68.6 L293.0,68.6" stroke="#d02030" stroke-width="1.9" fill="none"/><path d="M293.0,67.5 L294.5,67.3 L296.0,67.2 L297.5,67.0 L299.0,66.8 L300.5,66.7 L302.0,65.7 L303.6,67.0 L305.2,65.8 L306.8,66.5 L308.4,65.8 L310.0,65.9 L311.8,63.8 L313.5,64.1 L315.2,62.2 L317.0,61.6 L318.8,61.4 L320.5,60.4 L322.2,58.2 L324.0,57.3 L325.8,56.4 L327.5,55.5 L329.2,54.1 L331.0,52.4 L333.0,50.3 L335.0,48.9 L336.7,47.5 L338.3,44.2 L340.0,43.4 L341.5,42.4 L343.1,39.8 L344.6,39.9 L346.3,37.8 L348.0,37.8 L350.0,36.5 L351.5,38.3 L353.0,39.1 L354.5,40.7 L356.0,42.3 L357.8,44.7 L359.6,47.7 L361.2,49.0 L362.8,50.6 L364.4,51.5 L366.0,54.2 L367.5,56.0 L369.0,57.5 L370.5,60.5 L372.0,62.5 L373.5,63.6 L375.0,64.7 L376.5,66.9 L378.0,68.6" fill="none" stroke="#d02030" stroke-width="2.4" stroke-linejoin="round" stroke-linecap="round"/>
<path d="M345.0,77.1 L345.0,77.1 L347.0,70.2 L348.7,66.3 L350.3,63.2 L352.0,60.6 L353.7,56.8 L355.3,54.2 L357.0,51.1 L358.5,47.7 L360.0,46.2 L361.5,46.9 L363.0,49.8 L365.0,45.5 L366.5,47.2 L368.0,48.6 L370.0,52.5 L372.0,55.3 L373.5,60.2 L375.0,62.6 L376.5,67.4 L378.0,71.1 L380.0,72.8 L382.0,75.1 L383.6,74.4 L385.2,75.4 L386.8,75.8 L388.4,76.3 L390.0,76.7 L391.7,76.8 L393.3,76.8 L395.0,76.9 L396.7,77.0 L398.3,77.0 L400.0,77.1 L400.0,77.1 Z" fill="#fcd8b4" stroke="none"/><path d="M270.2,77.1 L345.0,77.1 M400.0,77.1 L518.0,77.1 M388.4,77.1 L390.0,77.1 M390.0,77.1 L391.7,77.1 M391.7,77.1 L393.3,77.1 M393.3,77.1 L395.0,77.1 M395.0,77.1 L396.7,77.1 M396.7,77.1 L398.3,77.1 M398.3,77.1 L400.0,77.1" stroke="#f09848" stroke-width="1.2" fill="none"/><path d="M345.0,77.1 L347.0,70.2 L348.7,66.3 L350.3,63.2 L352.0,60.6 L353.7,56.8 L355.3,54.2 L357.0,51.1 L358.5,47.7 L360.0,46.2 L361.5,46.9 L363.0,49.8 L365.0,45.5 L366.5,47.2 L368.0,48.6 L370.0,52.5 L372.0,55.3 L373.5,60.2 L375.0,62.6 L376.5,67.4 L378.0,71.1 L380.0,72.8 L382.0,75.1 L383.6,74.4 L385.2,75.4 L386.8,75.8 L388.4,76.3" fill="none" stroke="#f09848" stroke-width="1.6" stroke-linejoin="round" stroke-linecap="round"/>
<path d="M340.0,85.3 L340.0,85.3 L341.7,83.9 L343.3,83.3 L345.0,81.0 L346.7,79.5 L348.3,77.1 L350.0,73.4 L351.7,71.5 L353.3,68.8 L355.0,64.2 L356.5,61.7 L358.0,59.5 L360.0,59.1 L362.0,61.2 L363.5,56.8 L365.0,54.6 L367.0,51.4 L368.5,53.3 L370.0,55.4 L371.5,57.1 L373.0,60.3 L374.5,64.2 L376.0,67.3 L378.0,70.5 L380.0,74.4 L381.7,76.4 L383.3,79.8 L385.0,81.3 L386.8,82.4 L388.5,81.8 L390.2,83.6 L392.0,83.8 L393.5,83.9 L395.0,84.0 L396.5,84.0 L398.0,84.1 L399.5,84.2 L401.0,84.3 L402.5,84.4 L404.0,84.5 L405.5,84.5 L407.0,84.6 L408.5,84.7 L410.0,84.8 L411.5,84.8 L413.0,84.8 L414.5,84.8 L416.1,84.9 L417.6,84.9 L419.1,84.9 L420.6,84.9 L422.1,84.9 L423.6,84.9 L425.2,85.0 L426.7,85.0 L428.2,85.0 L429.7,85.0 L431.2,85.0 L432.7,85.0 L434.2,85.0 L435.8,85.1 L437.3,85.1 L438.8,85.1 L440.3,85.1 L441.8,85.1 L443.3,85.1 L444.8,85.1 L446.4,85.2 L447.9,85.2 L449.4,85.2 L450.9,85.2 L452.4,85.2 L453.9,85.2 L455.5,85.3 L457.0,85.3 L458.5,85.3 L460.0,85.3 L460.0,85.3 Z" fill="#fff" stroke="none"/><path d="M270.2,85.3 L340.0,85.3 M460.0,85.3 L518.0,85.3 M398.0,85.3 L399.5,85.3 M399.5,85.3 L401.0,85.3 M401.0,85.3 L402.5,85.3 M402.5,85.3 L404.0,85.3 M404.0,85.3 L405.5,85.3 M405.5,85.3 L407.0,85.3 M407.0,85.3 L408.5,85.3 M408.5,85.3 L410.0,85.3 M410.0,85.3 L411.5,85.3 M411.5,85.3 L413.0,85.3 M413.0,85.3 L414.5,85.3 M414.5,85.3 L416.1,85.3 M416.1,85.3 L417.6,85.3 M417.6,85.3 L419.1,85.3 M419.1,85.3 L420.6,85.3 M420.6,85.3 L422.1,85.3 M422.1,85.3 L423.6,85.3 M423.6,85.3 L425.2,85.3 M425.2,85.3 L426.7,85.3 M426.7,85.3 L428.2,85.3 M428.2,85.3 L429.7,85.3 M429.7,85.3 L431.2,85.3 M431.2,85.3 L432.7,85.3 M432.7,85.3 L434.2,85.3 M434.2,85.3 L435.8,85.3 M435.8,85.3 L437.3,85.3 M437.3,85.3 L438.8,85.3 M438.8,85.3 L440.3,85.3 M440.3,85.3 L441.8,85.3 M441.8,85.3 L443.3,85.3 M443.3,85.3 L444.8,85.3 M444.8,85.3 L446.4,85.3 M446.4,85.3 L447.9,85.3 M447.9,85.3 L449.4,85.3 M449.4,85.3 L450.9,85.3 M450.9,85.3 L452.4,85.3 M452.4,85.3 L453.9,85.3 M453.9,85.3 L455.5,85.3 M455.5,85.3 L457.0,85.3 M457.0,85.3 L458.5,85.3 M458.5,85.3 L460.0,85.3" stroke="#f09848" stroke-width="1.9" fill="none"/><path d="M340.0,85.3 L341.7,83.9 L343.3,83.3 L345.0,81.0 L346.7,79.5 L348.3,77.1 L350.0,73.4 L351.7,71.5 L353.3,68.8 L355.0,64.2 L356.5,61.7 L358.0,59.5 L360.0,59.1 L362.0,61.2 L363.5,56.8 L365.0,54.6 L367.0,51.4 L368.5,53.3 L370.0,55.4 L371.5,57.1 L373.0,60.3 L374.5,64.2 L376.0,67.3 L378.0,70.5 L380.0,74.4 L381.7,76.4 L383.3,79.8 L385.0,81.3 L386.8,82.4 L388.5,81.8 L390.2,83.6 L392.0,83.8 L393.5,83.9 L395.0,84.0 L396.5,84.0 L398.0,84.1" fill="none" stroke="#f09848" stroke-width="2.4" stroke-linejoin="round" stroke-linecap="round"/>
<path d="M271.0,94.0 L271.0,90.6 L272.6,91.5 L274.2,91.8 L275.8,91.5 L277.4,92.5 L279.0,92.0 L280.5,91.4 L282.0,90.8 L283.5,90.7 L285.0,88.6 L286.5,89.6 L288.0,88.2 L289.6,87.1 L291.2,87.2 L292.8,85.6 L294.4,86.2 L296.0,84.8 L297.6,83.7 L299.2,83.9 L300.7,82.8 L302.3,81.7 L303.9,82.2 L305.4,80.4 L307.0,81.2 L308.8,79.1 L310.5,78.8 L312.2,78.4 L314.0,76.7 L315.7,75.0 L317.3,72.6 L319.0,70.3 L320.8,69.2 L322.7,68.3 L324.5,68.0 L326.3,67.0 L328.2,66.5 L330.0,66.5 L331.7,64.0 L333.3,63.0 L335.0,62.7 L337.0,60.6 L338.5,61.7 L340.0,63.4 L341.5,64.0 L343.0,65.5 L344.7,67.3 L346.3,70.0 L348.0,72.1 L349.8,73.9 L351.5,77.1 L353.2,79.4 L355.0,81.2 L356.8,85.0 L358.5,86.0 L360.2,88.1 L362.0,90.3 L363.6,91.6 L365.2,92.5 L366.8,92.2 L368.4,92.6 L370.0,93.0 L371.7,93.2 L373.3,93.3 L375.0,93.5 L376.7,93.7 L378.3,93.8 L380.0,94.0 L380.0,94.0 Z" fill="#eef0a8" stroke="none"/><path d="M270.2,94.0 L271.0,94.0 M380.0,94.0 L518.0,94.0 M370.0,94.0 L371.7,94.0 M371.7,94.0 L373.3,94.0 M373.3,94.0 L375.0,94.0 M375.0,94.0 L376.7,94.0 M376.7,94.0 L378.3,94.0 M378.3,94.0 L380.0,94.0" stroke="#d2d630" stroke-width="1.2" fill="none"/><path d="M271.0,90.6 L272.6,91.5 L274.2,91.8 L275.8,91.5 L277.4,92.5 L279.0,92.0 L280.5,91.4 L282.0,90.8 L283.5,90.7 L285.0,88.6 L286.5,89.6 L288.0,88.2 L289.6,87.1 L291.2,87.2 L292.8,85.6 L294.4,86.2 L296.0,84.8 L297.6,83.7 L299.2,83.9 L300.7,82.8 L302.3,81.7 L303.9,82.2 L305.4,80.4 L307.0,81.2 L308.8,79.1 L310.5,78.8 L312.2,78.4 L314.0,76.7 L315.7,75.0 L317.3,72.6 L319.0,70.3 L320.8,69.2 L322.7,68.3 L324.5,68.0 L326.3,67.0 L328.2,66.5 L330.0,66.5 L331.7,64.0 L333.3,63.0 L335.0,62.7 L337.0,60.6 L338.5,61.7 L340.0,63.4 L341.5,64.0 L343.0,65.5 L344.7,67.3 L346.3,70.0 L348.0,72.1 L349.8,73.9 L351.5,77.1 L353.2,79.4 L355.0,81.2 L356.8,85.0 L358.5,86.0 L360.2,88.1 L362.0,90.3 L363.6,91.6 L365.2,92.5 L366.8,92.2 L368.4,92.6 L370.0,93.0" fill="none" stroke="#d2d630" stroke-width="1.6" stroke-linejoin="round" stroke-linecap="round"/>
<path d="M271.0,102.7 L271.0,101.0 L272.5,100.7 L274.1,101.0 L275.6,100.0 L277.2,99.5 L278.7,98.8 L280.3,99.6 L281.8,99.2 L283.4,98.5 L284.9,98.8 L286.5,98.2 L288.0,98.8 L289.6,98.0 L291.2,96.7 L292.8,97.4 L294.4,95.4 L296.0,95.9 L297.6,95.2 L299.2,94.1 L300.7,93.0 L302.3,93.6 L303.9,91.4 L305.4,91.6 L307.0,91.5 L308.6,89.1 L310.2,88.3 L311.8,88.1 L313.4,87.0 L315.0,86.3 L316.8,85.5 L318.5,83.4 L320.2,82.6 L322.0,81.5 L323.6,79.4 L325.3,79.3 L327.0,77.4 L328.6,75.6 L330.3,73.1 L332.0,73.5 L333.6,72.1 L335.3,70.4 L337.0,70.2 L338.5,69.9 L340.0,69.7 L341.7,70.8 L343.3,72.3 L345.0,73.2 L346.8,75.9 L348.5,78.8 L350.2,80.9 L352.0,83.3 L353.5,85.4 L355.0,86.9 L356.5,89.7 L358.0,91.8 L359.8,94.1 L361.5,95.4 L363.2,96.7 L365.0,99.1 L366.8,100.2 L368.5,99.5 L370.2,101.3 L372.0,101.2 L373.6,101.5 L375.2,101.8 L376.8,102.1 L378.4,102.4 L380.0,102.7 L380.0,102.7 Z" fill="#fff" stroke="none"/><path d="M270.2,102.7 L271.0,102.7 M380.0,102.7 L518.0,102.7 M375.2,102.7 L376.8,102.7 M376.8,102.7 L378.4,102.7 M378.4,102.7 L380.0,102.7" stroke="#d2d630" stroke-width="1.9" fill="none"/><path d="M271.0,101.0 L272.5,100.7 L274.1,101.0 L275.6,100.0 L277.2,99.5 L278.7,98.8 L280.3,99.6 L281.8,99.2 L283.4,98.5 L284.9,98.8 L286.5,98.2 L288.0,98.8 L289.6,98.0 L291.2,96.7 L292.8,97.4 L294.4,95.4 L296.0,95.9 L297.6,95.2 L299.2,94.1 L300.7,93.0 L302.3,93.6 L303.9,91.4 L305.4,91.6 L307.0,91.5 L308.6,89.1 L310.2,88.3 L311.8,88.1 L313.4,87.0 L315.0,86.3 L316.8,85.5 L318.5,83.4 L320.2,82.6 L322.0,81.5 L323.6,79.4 L325.3,79.3 L327.0,77.4 L328.6,75.6 L330.3,73.1 L332.0,73.5 L333.6,72.1 L335.3,70.4 L337.0,70.2 L338.5,69.9 L340.0,69.7 L341.7,70.8 L343.3,72.3 L345.0,73.2 L346.8,75.9 L348.5,78.8 L350.2,80.9 L352.0,83.3 L353.5,85.4 L355.0,86.9 L356.5,89.7 L358.0,91.8 L359.8,94.1 L361.5,95.4 L363.2,96.7 L365.0,99.1 L366.8,100.2 L368.5,99.5 L370.2,101.3 L372.0,101.2 L373.6,101.5 L375.2,101.8" fill="none" stroke="#d2d630" stroke-width="2.4" stroke-linejoin="round" stroke-linecap="round"/>
<path d="M271.0,111.5 L271.0,111.0 L272.6,110.8 L274.2,110.6 L275.8,110.4 L277.3,110.2 L278.9,110.0 L280.5,109.8 L282.1,109.5 L283.7,108.5 L285.2,108.7 L286.8,108.4 L288.4,109.1 L290.0,109.3 L291.7,108.4 L293.3,107.0 L295.0,107.4 L296.7,105.9 L298.3,105.1 L300.0,105.7 L301.7,104.3 L303.3,103.5 L305.0,102.5 L306.7,102.2 L308.3,100.4 L310.0,100.1 L311.6,98.4 L313.2,97.1 L314.8,94.9 L316.4,93.9 L318.0,92.1 L319.8,90.3 L321.5,88.7 L323.2,88.1 L325.0,85.7 L326.6,86.5 L328.2,84.3 L329.8,83.4 L331.4,82.8 L333.0,83.5 L334.8,82.0 L336.5,81.3 L338.2,80.7 L340.0,80.4 L341.7,81.3 L343.3,80.9 L345.0,80.8 L346.7,83.4 L348.3,84.7 L350.0,88.2 L351.7,90.6 L353.3,94.2 L355.0,97.1 L356.8,99.1 L358.5,99.6 L360.2,102.9 L362.0,104.9 L363.6,105.6 L365.2,104.7 L366.8,105.5 L368.4,106.0 L370.0,106.5 L371.7,108.5 L373.3,109.0 L375.0,109.3 L376.7,109.6 L378.3,110.2 L380.0,110.8 L381.7,110.9 L383.3,111.0 L385.0,111.2 L386.7,111.3 L388.3,111.4 L390.0,111.5 L390.0,111.5 Z" fill="#c8e4b8" stroke="none"/><path d="M270.2,111.5 L271.0,111.5 M390.0,111.5 L518.0,111.5 M271.0,111.5 L272.6,111.5 M272.6,111.5 L274.2,111.5 M274.2,111.5 L275.8,111.5 M380.0,111.5 L381.7,111.5 M381.7,111.5 L383.3,111.5 M383.3,111.5 L385.0,111.5 M385.0,111.5 L386.7,111.5 M386.7,111.5 L388.3,111.5 M388.3,111.5 L390.0,111.5" stroke="#2aa040" stroke-width="1.2" fill="none"/><path d="M275.8,110.4 L277.3,110.2 L278.9,110.0 L280.5,109.8 L282.1,109.5 L283.7,108.5 L285.2,108.7 L286.8,108.4 L288.4,109.1 L290.0,109.3 L291.7,108.4 L293.3,107.0 L295.0,107.4 L296.7,105.9 L298.3,105.1 L300.0,105.7 L301.7,104.3 L303.3,103.5 L305.0,102.5 L306.7,102.2 L308.3,100.4 L310.0,100.1 L311.6,98.4 L313.2,97.1 L314.8,94.9 L316.4,93.9 L318.0,92.1 L319.8,90.3 L321.5,88.7 L323.2,88.1 L325.0,85.7 L326.6,86.5 L328.2,84.3 L329.8,83.4 L331.4,82.8 L333.0,83.5 L334.8,82.0 L336.5,81.3 L338.2,80.7 L340.0,80.4 L341.7,81.3 L343.3,80.9 L345.0,80.8 L346.7,83.4 L348.3,84.7 L350.0,88.2 L351.7,90.6 L353.3,94.2 L355.0,97.1 L356.8,99.1 L358.5,99.6 L360.2,102.9 L362.0,104.9 L363.6,105.6 L365.2,104.7 L366.8,105.5 L368.4,106.0 L370.0,106.5 L371.7,108.5 L373.3,109.0 L375.0,109.3 L376.7,109.6 L378.3,110.2 L380.0,110.8" fill="none" stroke="#2aa040" stroke-width="1.6" stroke-linejoin="round" stroke-linecap="round"/>
<path d="M271.0,120.0 L271.0,119.0 L272.5,118.7 L274.1,118.5 L275.6,118.2 L277.2,118.6 L278.7,118.0 L280.3,117.1 L281.8,116.5 L283.4,116.2 L284.9,117.2 L286.5,115.9 L288.0,115.9 L289.5,115.5 L291.0,114.3 L292.5,114.2 L294.0,113.7 L295.6,114.0 L297.1,112.8 L298.6,112.2 L300.1,112.9 L301.6,111.5 L303.2,111.6 L304.7,110.7 L306.3,109.2 L307.9,109.3 L309.4,108.9 L311.0,109.0 L312.8,106.8 L314.5,106.1 L316.2,104.4 L318.0,102.5 L319.8,102.3 L321.5,99.5 L323.2,99.5 L325.0,96.9 L326.6,95.7 L328.2,95.2 L329.8,95.3 L331.4,94.8 L333.0,92.1 L334.6,92.2 L336.2,91.4 L337.8,91.1 L339.4,89.2 L341.0,89.0 L342.5,90.7 L344.0,93.6 L346.0,94.1 L348.0,96.8 L350.0,97.4 L352.0,99.0 L353.6,102.3 L355.2,104.4 L356.8,106.1 L358.4,109.5 L360.0,110.9 L361.5,113.2 L363.1,114.0 L364.6,115.1 L366.2,115.8 L367.7,116.2 L369.2,116.5 L370.8,116.7 L372.3,117.8 L373.8,116.6 L375.4,118.2 L376.9,116.8 L378.4,117.4 L379.9,118.1 L381.5,118.3 L383.0,118.5 L384.6,118.6 L386.2,118.8 L387.8,118.9 L389.3,119.0 L390.9,119.1 L392.5,119.2 L394.1,119.4 L395.7,119.5 L397.2,119.6 L398.8,119.8 L400.4,119.9 L402.0,120.0 L403.5,120.0 L405.0,120.0 L406.5,120.0 L408.0,120.0 L409.5,120.0 L411.0,120.0 L412.5,120.0 L414.0,120.0 L415.5,120.0 L417.0,120.0 L418.5,120.0 L420.0,120.0 L420.0,120.0 Z" fill="#fff" stroke="none"/><path d="M270.2,120.0 L271.0,120.0 M420.0,120.0 L518.0,120.0 M387.8,120.0 L389.3,120.0 M389.3,120.0 L390.9,120.0 M390.9,120.0 L392.5,120.0 M392.5,120.0 L394.1,120.0 M394.1,120.0 L395.7,120.0 M395.7,120.0 L397.2,120.0 M397.2,120.0 L398.8,120.0 M398.8,120.0 L400.4,120.0 M400.4,120.0 L402.0,120.0 M402.0,120.0 L403.5,120.0 M403.5,120.0 L405.0,120.0 M405.0,120.0 L406.5,120.0 M406.5,120.0 L408.0,120.0 M408.0,120.0 L409.5,120.0 M409.5,120.0 L411.0,120.0 M411.0,120.0 L412.5,120.0 M412.5,120.0 L414.0,120.0 M414.0,120.0 L415.5,120.0 M415.5,120.0 L417.0,120.0 M417.0,120.0 L418.5,120.0 M418.5,120.0 L420.0,120.0" stroke="#2aa040" stroke-width="1.9" fill="none"/><path d="M271.0,119.0 L272.5,118.7 L274.1,118.5 L275.6,118.2 L277.2,118.6 L278.7,118.0 L280.3,117.1 L281.8,116.5 L283.4,116.2 L284.9,117.2 L286.5,115.9 L288.0,115.9 L289.5,115.5 L291.0,114.3 L292.5,114.2 L294.0,113.7 L295.6,114.0 L297.1,112.8 L298.6,112.2 L300.1,112.9 L301.6,111.5 L303.2,111.6 L304.7,110.7 L306.3,109.2 L307.9,109.3 L309.4,108.9 L311.0,109.0 L312.8,106.8 L314.5,106.1 L316.2,104.4 L318.0,102.5 L319.8,102.3 L321.5,99.5 L323.2,99.5 L325.0,96.9 L326.6,95.7 L328.2,95.2 L329.8,95.3 L331.4,94.8 L333.0,92.1 L334.6,92.2 L336.2,91.4 L337.8,91.1 L339.4,89.2 L341.0,89.0 L342.5,90.7 L344.0,93.6 L346.0,94.1 L348.0,96.8 L350.0,97.4 L352.0,99.0 L353.6,102.3 L355.2,104.4 L356.8,106.1 L358.4,109.5 L360.0,110.9 L361.5,113.2 L363.1,114.0 L364.6,115.1 L366.2,115.8 L367.7,116.2 L369.2,116.5 L370.8,116.7 L372.3,117.8 L373.8,116.6 L375.4,118.2 L376.9,116.8 L378.4,117.4 L379.9,118.1 L381.5,118.3 L383.0,118.5 L384.6,118.6 L386.2,118.8 L387.8,118.9" fill="none" stroke="#2aa040" stroke-width="2.4" stroke-linejoin="round" stroke-linecap="round"/>
<path d="M271.0,129.0 L271.0,125.1 L272.5,127.0 L274.1,127.7 L275.7,126.9 L277.3,126.6 L278.9,127.5 L280.5,126.3 L282.0,126.7 L283.6,126.7 L285.2,127.1 L286.8,127.0 L288.4,126.8 L290.0,126.2 L291.7,126.0 L293.3,125.4 L295.0,126.5 L296.7,125.9 L298.3,125.9 L300.0,124.6 L301.7,124.7 L303.3,125.0 L305.0,124.2 L306.7,123.1 L308.3,123.3 L310.0,123.7 L311.7,121.8 L313.3,120.9 L315.0,120.4 L316.7,120.4 L318.3,119.9 L320.0,117.9 L321.5,116.7 L323.0,115.7 L324.5,114.7 L326.0,113.9 L327.5,112.1 L329.0,111.2 L330.6,109.8 L332.2,110.1 L333.8,108.5 L335.4,106.2 L337.0,106.6 L338.6,104.0 L340.2,103.5 L341.8,103.5 L343.3,102.1 L344.9,100.9 L346.5,99.3 L348.3,97.7 L350.2,97.4 L352.0,95.3 L353.5,96.2 L355.0,97.3 L356.7,99.3 L358.3,102.7 L360.0,106.0 L361.5,107.8 L363.0,109.5 L364.5,111.7 L366.0,113.4 L367.6,114.1 L369.2,116.1 L370.8,116.9 L372.4,118.7 L374.0,120.2 L375.5,120.0 L377.0,120.9 L378.5,121.8 L380.0,121.9 L381.7,121.9 L383.3,123.2 L385.0,123.9 L386.7,124.2 L388.3,124.4 L390.0,125.1 L391.6,125.0 L393.1,125.0 L394.7,124.9 L396.2,124.7 L397.8,125.5 L399.3,124.6 L400.9,125.4 L402.4,126.2 L404.0,126.2 L405.6,126.2 L407.1,125.6 L408.7,126.1 L410.2,126.3 L411.8,126.7 L413.3,126.5 L414.9,127.1 L416.4,127.7 L418.0,127.1 L419.6,127.2 L421.2,127.3 L422.8,127.4 L424.3,127.6 L425.9,127.7 L427.5,127.8 L429.1,127.9 L430.7,128.0 L432.2,128.2 L433.8,128.3 L435.4,128.4 L437.0,128.5 L438.6,128.6 L440.2,128.6 L441.9,128.7 L443.5,128.8 L445.1,128.8 L446.8,128.9 L448.4,128.9 L450.0,129.0 L450.0,129.0 Z" fill="#c8e0f6" stroke="none"/><path d="M270.2,129.0 L271.0,129.0 M450.0,129.0 L518.0,129.0 M429.1,129.0 L430.7,129.0 M430.7,129.0 L432.2,129.0 M432.2,129.0 L433.8,129.0 M433.8,129.0 L435.4,129.0 M435.4,129.0 L437.0,129.0 M437.0,129.0 L438.6,129.0 M438.6,129.0 L440.2,129.0 M440.2,129.0 L441.9,129.0 M441.9,129.0 L443.5,129.0 M443.5,129.0 L445.1,129.0 M445.1,129.0 L446.8,129.0 M446.8,129.0 L448.4,129.0 M448.4,129.0 L450.0,129.0" stroke="#6898cc" stroke-width="1.2" fill="none"/><path d="M271.0,125.1 L272.5,127.0 L274.1,127.7 L275.7,126.9 L277.3,126.6 L278.9,127.5 L280.5,126.3 L282.0,126.7 L283.6,126.7 L285.2,127.1 L286.8,127.0 L288.4,126.8 L290.0,126.2 L291.7,126.0 L293.3,125.4 L295.0,126.5 L296.7,125.9 L298.3,125.9 L300.0,124.6 L301.7,124.7 L303.3,125.0 L305.0,124.2 L306.7,123.1 L308.3,123.3 L310.0,123.7 L311.7,121.8 L313.3,120.9 L315.0,120.4 L316.7,120.4 L318.3,119.9 L320.0,117.9 L321.5,116.7 L323.0,115.7 L324.5,114.7 L326.0,113.9 L327.5,112.1 L329.0,111.2 L330.6,109.8 L332.2,110.1 L333.8,108.5 L335.4,106.2 L337.0,106.6 L338.6,104.0 L340.2,103.5 L341.8,103.5 L343.3,102.1 L344.9,100.9 L346.5,99.3 L348.3,97.7 L350.2,97.4 L352.0,95.3 L353.5,96.2 L355.0,97.3 L356.7,99.3 L358.3,102.7 L360.0,106.0 L361.5,107.8 L363.0,109.5 L364.5,111.7 L366.0,113.4 L367.6,114.1 L369.2,116.1 L370.8,116.9 L372.4,118.7 L374.0,120.2 L375.5,120.0 L377.0,120.9 L378.5,121.8 L380.0,121.9 L381.7,121.9 L383.3,123.2 L385.0,123.9 L386.7,124.2 L388.3,124.4 L390.0,125.1 L391.6,125.0 L393.1,125.0 L394.7,124.9 L396.2,124.7 L397.8,125.5 L399.3,124.6 L400.9,125.4 L402.4,126.2 L404.0,126.2 L405.6,126.2 L407.1,125.6 L408.7,126.1 L410.2,126.3 L411.8,126.7 L413.3,126.5 L414.9,127.1 L416.4,127.7 L418.0,127.1 L419.6,127.2 L421.2,127.3 L422.8,127.4 L424.3,127.6 L425.9,127.7 L427.5,127.8 L429.1,127.9" fill="none" stroke="#6898cc" stroke-width="1.6" stroke-linejoin="round" stroke-linecap="round"/>
<path d="M271.0,137.5 L271.0,132.4 L272.5,136.0 L274.1,135.9 L275.7,135.8 L277.3,135.7 L278.9,135.6 L280.5,135.5 L282.0,135.7 L283.6,135.8 L285.2,135.0 L286.8,135.1 L288.4,135.9 L290.0,134.1 L291.7,134.7 L293.3,133.8 L295.0,134.6 L296.7,134.6 L298.3,133.6 L300.0,132.6 L301.7,133.1 L303.3,132.6 L305.0,132.5 L306.7,131.8 L308.3,131.6 L310.0,131.6 L311.7,129.9 L313.3,128.6 L315.0,128.4 L316.7,125.9 L318.3,125.7 L320.0,124.0 L321.5,123.7 L323.0,121.6 L324.5,122.2 L326.0,120.1 L327.5,118.7 L329.0,118.1 L330.6,117.0 L332.2,115.0 L333.8,114.5 L335.4,113.2 L337.0,112.4 L338.5,110.5 L340.0,109.1 L341.5,107.8 L343.0,107.4 L344.7,106.8 L346.3,105.0 L348.0,103.5 L349.5,103.3 L351.0,101.3 L352.5,99.7 L354.0,98.3 L355.5,100.5 L357.0,101.6 L358.7,103.6 L360.3,105.6 L362.0,108.1 L363.5,109.5 L365.0,112.8 L366.5,113.7 L368.0,116.2 L369.8,118.3 L371.5,120.1 L373.2,121.2 L375.0,122.6 L376.6,124.0 L378.2,124.1 L379.8,126.3 L381.4,126.3 L383.0,128.1 L384.5,127.3 L386.1,127.7 L387.6,127.6 L389.2,128.1 L390.7,127.9 L392.3,127.8 L393.8,129.2 L395.4,128.6 L396.9,128.8 L398.5,129.1 L400.0,129.6 L401.7,129.8 L403.3,130.5 L405.0,130.8 L406.7,130.6 L408.3,132.0 L410.0,132.1 L411.6,131.3 L413.2,133.3 L414.8,134.0 L416.4,134.4 L418.0,133.9 L419.5,135.3 L421.1,135.2 L422.6,134.3 L424.2,134.5 L425.7,135.7 L427.2,135.9 L428.8,136.1 L430.3,136.3 L431.8,136.6 L433.4,136.8 L434.9,137.0 L436.5,137.3 L438.0,137.5 L438.0,137.5 Z" fill="#fff" stroke="none"/><path d="M270.2,137.5 L271.0,137.5 M438.0,137.5 L518.0,137.5 M430.3,137.5 L431.8,137.5 M431.8,137.5 L433.4,137.5 M433.4,137.5 L434.9,137.5 M434.9,137.5 L436.5,137.5 M436.5,137.5 L438.0,137.5" stroke="#6898cc" stroke-width="1.9" fill="none"/><path d="M271.0,132.4 L272.5,136.0 L274.1,135.9 L275.7,135.8 L277.3,135.7 L278.9,135.6 L280.5,135.5 L282.0,135.7 L283.6,135.8 L285.2,135.0 L286.8,135.1 L288.4,135.9 L290.0,134.1 L291.7,134.7 L293.3,133.8 L295.0,134.6 L296.7,134.6 L298.3,133.6 L300.0,132.6 L301.7,133.1 L303.3,132.6 L305.0,132.5 L306.7,131.8 L308.3,131.6 L310.0,131.6 L311.7,129.9 L313.3,128.6 L315.0,128.4 L316.7,125.9 L318.3,125.7 L320.0,124.0 L321.5,123.7 L323.0,121.6 L324.5,122.2 L326.0,120.1 L327.5,118.7 L329.0,118.1 L330.6,117.0 L332.2,115.0 L333.8,114.5 L335.4,113.2 L337.0,112.4 L338.5,110.5 L340.0,109.1 L341.5,107.8 L343.0,107.4 L344.7,106.8 L346.3,105.0 L348.0,103.5 L349.5,103.3 L351.0,101.3 L352.5,99.7 L354.0,98.3 L355.5,100.5 L357.0,101.6 L358.7,103.6 L360.3,105.6 L362.0,108.1 L363.5,109.5 L365.0,112.8 L366.5,113.7 L368.0,116.2 L369.8,118.3 L371.5,120.1 L373.2,121.2 L375.0,122.6 L376.6,124.0 L378.2,124.1 L379.8,126.3 L381.4,126.3 L383.0,128.1 L384.5,127.3 L386.1,127.7 L387.6,127.6 L389.2,128.1 L390.7,127.9 L392.3,127.8 L393.8,129.2 L395.4,128.6 L396.9,128.8 L398.5,129.1 L400.0,129.6 L401.7,129.8 L403.3,130.5 L405.0,130.8 L406.7,130.6 L408.3,132.0 L410.0,132.1 L411.6,131.3 L413.2,133.3 L414.8,134.0 L416.4,134.4 L418.0,133.9 L419.5,135.3 L421.1,135.2 L422.6,134.3 L424.2,134.5 L425.7,135.7 L427.2,135.9 L428.8,136.1 L430.3,136.3" fill="none" stroke="#6898cc" stroke-width="2.4" stroke-linejoin="round" stroke-linecap="round"/>
<path d="M271.0,145.9 L271.0,144.7 L272.6,144.6 L274.2,144.5 L275.8,144.4 L277.3,144.3 L278.9,144.2 L280.5,144.1 L282.1,143.9 L283.7,144.6 L285.2,144.0 L286.8,143.2 L288.4,142.8 L290.0,142.8 L291.7,142.6 L293.3,143.2 L295.0,142.1 L296.7,141.4 L298.3,142.4 L300.0,141.8 L301.7,140.2 L303.3,140.9 L305.0,139.8 L306.7,139.6 L308.3,138.9 L310.0,138.7 L311.7,138.0 L313.3,137.5 L315.0,135.8 L316.7,136.1 L318.3,135.2 L320.0,135.0 L321.6,133.5 L323.2,133.4 L324.8,131.9 L326.4,130.4 L328.0,129.4 L329.8,127.4 L331.5,126.2 L333.2,123.6 L335.0,122.4 L337.0,118.2 L338.7,117.2 L340.3,115.7 L342.0,114.2 L344.0,116.5 L346.0,116.6 L348.0,119.5 L350.0,120.1 L351.7,122.5 L353.3,125.0 L355.0,127.5 L356.7,129.4 L358.3,132.2 L360.0,135.8 L361.7,136.5 L363.3,139.7 L365.0,141.9 L366.7,142.0 L368.3,144.0 L370.0,145.1 L371.7,145.2 L373.3,145.4 L375.0,145.5 L376.7,145.6 L378.3,145.8 L380.0,145.9 L380.0,145.9 Z" fill="#b2b2e0" stroke="none"/><path d="M270.2,145.9 L271.0,145.9 M380.0,145.9 L518.0,145.9 M370.0,145.9 L371.7,145.9 M371.7,145.9 L373.3,145.9 M373.3,145.9 L375.0,145.9 M375.0,145.9 L376.7,145.9 M376.7,145.9 L378.3,145.9 M378.3,145.9 L380.0,145.9" stroke="#2a3a8c" stroke-width="1.2" fill="none"/><path d="M271.0,144.7 L272.6,144.6 L274.2,144.5 L275.8,144.4 L277.3,144.3 L278.9,144.2 L280.5,144.1 L282.1,143.9 L283.7,144.6 L285.2,144.0 L286.8,143.2 L288.4,142.8 L290.0,142.8 L291.7,142.6 L293.3,143.2 L295.0,142.1 L296.7,141.4 L298.3,142.4 L300.0,141.8 L301.7,140.2 L303.3,140.9 L305.0,139.8 L306.7,139.6 L308.3,138.9 L310.0,138.7 L311.7,138.0 L313.3,137.5 L315.0,135.8 L316.7,136.1 L318.3,135.2 L320.0,135.0 L321.6,133.5 L323.2,133.4 L324.8,131.9 L326.4,130.4 L328.0,129.4 L329.8,127.4 L331.5,126.2 L333.2,123.6 L335.0,122.4 L337.0,118.2 L338.7,117.2 L340.3,115.7 L342.0,114.2 L344.0,116.5 L346.0,116.6 L348.0,119.5 L350.0,120.1 L351.7,122.5 L353.3,125.0 L355.0,127.5 L356.7,129.4 L358.3,132.2 L360.0,135.8 L361.7,136.5 L363.3,139.7 L365.0,141.9 L366.7,142.0 L368.3,144.0 L370.0,145.1" fill="none" stroke="#2a3a8c" stroke-width="1.6" stroke-linejoin="round" stroke-linecap="round"/>
<path d="M271.0,154.8 L271.0,155.0 L272.6,154.9 L274.2,154.8 L275.8,154.6 L277.3,154.5 L278.9,154.4 L280.5,154.2 L282.1,154.1 L283.7,154.0 L285.2,153.9 L286.8,153.8 L288.4,153.6 L290.0,153.5 L291.7,153.2 L293.3,152.8 L295.0,152.6 L296.7,152.4 L298.3,152.5 L300.0,151.1 L301.7,151.5 L303.3,150.0 L305.0,149.2 L306.7,149.2 L308.3,146.9 L310.0,147.4 L311.7,146.1 L313.3,144.4 L315.0,144.2 L316.7,142.1 L318.3,141.1 L320.0,140.0 L321.6,139.2 L323.3,136.9 L324.9,136.0 L326.6,134.7 L328.2,133.7 L329.9,132.9 L331.5,130.6 L333.1,130.7 L334.7,129.0 L336.2,128.2 L337.8,126.9 L339.4,126.3 L341.0,126.3 L342.8,125.1 L344.5,124.7 L346.2,123.3 L348.0,122.7 L349.5,123.8 L351.0,125.6 L352.8,127.6 L354.5,129.9 L356.2,130.6 L358.0,133.8 L359.5,136.4 L361.0,138.1 L362.5,139.6 L364.0,142.3 L366.0,144.0 L368.0,146.4 L370.0,149.2 L372.0,150.0 L373.6,150.3 L375.2,150.8 L376.9,151.3 L378.5,151.0 L380.1,151.3 L381.8,151.5 L383.4,151.9 L385.0,152.0 L386.7,152.0 L388.3,151.0 L390.0,151.7 L391.7,151.2 L393.3,151.6 L395.0,150.3 L396.5,150.2 L398.0,149.7 L399.5,150.8 L401.0,150.9 L402.5,150.2 L404.0,149.4 L405.5,150.0 L407.0,149.8 L408.5,149.1 L410.0,148.4 L411.7,148.1 L413.3,148.0 L415.0,147.5 L416.7,147.4 L418.3,147.5 L420.0,147.7 L421.6,146.1 L423.2,147.0 L424.8,146.1 L426.4,146.2 L428.0,147.5 L429.8,147.8 L431.5,149.1 L433.2,149.0 L435.0,148.9 L436.7,150.9 L438.3,152.6 L440.0,153.7 L441.7,154.1 L443.3,154.4 L445.0,154.8 L445.0,154.8 Z" fill="#fff" stroke="none"/><path d="M270.2,154.8 L271.0,154.8 M445.0,154.8 L518.0,154.8 M271.0,154.8 L272.6,154.8 M272.6,154.8 L274.2,154.8 M274.2,154.8 L275.8,154.8 M275.8,154.8 L277.3,154.8 M277.3,154.8 L278.9,154.8 M278.9,154.8 L280.5,154.8 M280.5,154.8 L282.1,154.8 M282.1,154.8 L283.7,154.8 M283.7,154.8 L285.2,154.8 M285.2,154.8 L286.8,154.8 M286.8,154.8 L288.4,154.8 M440.0,154.8 L441.7,154.8 M441.7,154.8 L443.3,154.8 M443.3,154.8 L445.0,154.8" stroke="#2a3a8c" stroke-width="1.9" fill="none"/><path d="M288.4,153.6 L290.0,153.5 L291.7,153.2 L293.3,152.8 L295.0,152.6 L296.7,152.4 L298.3,152.5 L300.0,151.1 L301.7,151.5 L303.3,150.0 L305.0,149.2 L306.7,149.2 L308.3,146.9 L310.0,147.4 L311.7,146.1 L313.3,144.4 L315.0,144.2 L316.7,142.1 L318.3,141.1 L320.0,140.0 L321.6,139.2 L323.3,136.9 L324.9,136.0 L326.6,134.7 L328.2,133.7 L329.9,132.9 L331.5,130.6 L333.1,130.7 L334.7,129.0 L336.2,128.2 L337.8,126.9 L339.4,126.3 L341.0,126.3 L342.8,125.1 L344.5,124.7 L346.2,123.3 L348.0,122.7 L349.5,123.8 L351.0,125.6 L352.8,127.6 L354.5,129.9 L356.2,130.6 L358.0,133.8 L359.5,136.4 L361.0,138.1 L362.5,139.6 L364.0,142.3 L366.0,144.0 L368.0,146.4 L370.0,149.2 L372.0,150.0 L373.6,150.3 L375.2,150.8 L376.9,151.3 L378.5,151.0 L380.1,151.3 L381.8,151.5 L383.4,151.9 L385.0,152.0 L386.7,152.0 L388.3,151.0 L390.0,151.7 L391.7,151.2 L393.3,151.6 L395.0,150.3 L396.5,150.2 L398.0,149.7 L399.5,150.8 L401.0,150.9 L402.5,150.2 L404.0,149.4 L405.5,150.0 L407.0,149.8 L408.5,149.1 L410.0,148.4 L411.7,148.1 L413.3,148.0 L415.0,147.5 L416.7,147.4 L418.3,147.5 L420.0,147.7 L421.6,146.1 L423.2,147.0 L424.8,146.1 L426.4,146.2 L428.0,147.5 L429.8,147.8 L431.5,149.1 L433.2,149.0 L435.0,148.9 L436.7,150.9 L438.3,152.6 L440.0,153.7" fill="none" stroke="#2a3a8c" stroke-width="2.4" stroke-linejoin="round" stroke-linecap="round"/>
<path d="M271.0,163.5 L271.0,163.5 L272.6,163.4 L274.2,163.4 L275.8,163.3 L277.3,163.3 L278.9,163.2 L280.5,163.2 L282.1,163.1 L283.7,163.0 L285.2,163.0 L286.8,162.9 L288.4,162.9 L290.0,162.8 L291.5,162.7 L293.0,162.5 L294.5,162.4 L296.0,162.2 L297.5,162.1 L299.0,162.0 L300.5,161.8 L302.0,161.7 L303.5,161.5 L305.0,162.2 L306.7,161.9 L308.3,160.7 L310.0,160.2 L311.7,159.4 L313.3,160.0 L315.0,158.9 L316.7,158.1 L318.3,157.2 L320.0,156.5 L321.7,157.1 L323.3,155.4 L325.0,156.2 L326.7,153.2 L328.3,153.1 L330.0,150.3 L331.7,148.1 L333.3,147.4 L335.0,144.5 L336.7,143.4 L338.3,140.4 L340.0,138.2 L341.7,138.4 L343.3,137.2 L345.0,136.3 L347.0,134.4 L349.0,131.6 L350.5,134.5 L352.0,136.7 L353.5,135.2 L355.0,135.1 L356.5,136.6 L358.0,140.5 L360.0,143.1 L362.0,144.9 L364.0,148.9 L366.0,154.1 L368.0,157.5 L370.0,159.2 L371.7,160.8 L373.3,162.3 L375.0,163.5 L375.0,163.5 Z" fill="#caaae2" stroke="none"/><path d="M270.2,163.5 L271.0,163.5 M375.0,163.5 L518.0,163.5 M271.0,163.5 L272.6,163.5 M272.6,163.5 L274.2,163.5 M274.2,163.5 L275.8,163.5 M275.8,163.5 L277.3,163.5 M277.3,163.5 L278.9,163.5 M278.9,163.5 L280.5,163.5 M280.5,163.5 L282.1,163.5 M282.1,163.5 L283.7,163.5 M283.7,163.5 L285.2,163.5 M285.2,163.5 L286.8,163.5 M286.8,163.5 L288.4,163.5 M288.4,163.5 L290.0,163.5 M290.0,163.5 L291.5,163.5 M291.5,163.5 L293.0,163.5 M293.0,163.5 L294.5,163.5 M373.3,163.5 L375.0,163.5" stroke="#6a4aa0" stroke-width="1.2" fill="none"/><path d="M294.5,162.4 L296.0,162.2 L297.5,162.1 L299.0,162.0 L300.5,161.8 L302.0,161.7 L303.5,161.5 L305.0,162.2 L306.7,161.9 L308.3,160.7 L310.0,160.2 L311.7,159.4 L313.3,160.0 L315.0,158.9 L316.7,158.1 L318.3,157.2 L320.0,156.5 L321.7,157.1 L323.3,155.4 L325.0,156.2 L326.7,153.2 L328.3,153.1 L330.0,150.3 L331.7,148.1 L333.3,147.4 L335.0,144.5 L336.7,143.4 L338.3,140.4 L340.0,138.2 L341.7,138.4 L343.3,137.2 L345.0,136.3 L347.0,134.4 L349.0,131.6 L350.5,134.5 L352.0,136.7 L353.5,135.2 L355.0,135.1 L356.5,136.6 L358.0,140.5 L360.0,143.1 L362.0,144.9 L364.0,148.9 L366.0,154.1 L368.0,157.5 L370.0,159.2 L371.7,160.8 L373.3,162.3" fill="none" stroke="#6a4aa0" stroke-width="1.6" stroke-linejoin="round" stroke-linecap="round"/>
<path d="M271.0,171.7 L271.0,171.5 L272.6,171.4 L274.2,171.4 L275.8,171.3 L277.3,171.3 L278.9,171.2 L280.5,171.2 L282.1,171.2 L283.7,171.1 L285.2,171.1 L286.8,171.0 L288.4,171.0 L290.0,170.9 L291.5,170.8 L293.0,170.7 L294.5,170.6 L296.0,170.5 L297.5,170.4 L299.0,170.3 L300.5,170.2 L302.0,170.1 L303.5,170.0 L305.0,169.9 L306.7,169.8 L308.3,168.3 L310.0,169.0 L311.7,167.8 L313.3,166.5 L315.0,166.6 L316.7,165.8 L318.3,164.5 L320.0,163.8 L321.7,162.0 L323.3,162.2 L325.0,160.6 L326.7,159.3 L328.3,157.4 L330.0,155.3 L331.7,153.8 L333.3,153.1 L335.0,152.0 L336.7,149.4 L338.3,146.8 L340.0,144.0 L341.7,142.3 L343.3,142.6 L345.0,140.8 L346.7,140.1 L348.3,138.3 L350.0,137.9 L352.0,139.9 L354.0,141.0 L356.0,143.6 L358.0,146.1 L360.0,149.7 L362.0,153.9 L363.5,156.0 L365.0,159.5 L366.7,160.9 L368.3,163.0 L370.0,164.4 L371.7,164.0 L373.3,164.1 L375.0,165.2 L376.7,166.1 L378.3,167.0 L380.0,168.1 L381.6,168.3 L383.3,167.0 L384.9,168.5 L386.6,168.6 L388.2,168.9 L389.9,168.5 L391.5,168.1 L393.1,169.0 L394.8,168.7 L396.4,168.3 L398.1,168.6 L399.7,167.4 L401.4,166.7 L403.0,167.4 L404.5,167.6 L406.0,166.3 L407.5,167.0 L409.0,167.1 L410.5,165.6 L412.0,166.0 L413.7,165.7 L415.3,164.9 L417.0,164.1 L418.6,164.6 L420.2,166.0 L421.8,166.6 L423.4,166.4 L425.0,166.3 L426.7,168.3 L428.3,169.1 L430.0,168.9 L431.7,170.1 L433.3,170.9 L435.0,171.7 L435.0,171.7 Z" fill="#fff" stroke="none"/><path d="M270.2,171.7 L271.0,171.7 M435.0,171.7 L518.0,171.7 M271.0,171.7 L272.6,171.7 M272.6,171.7 L274.2,171.7 M274.2,171.7 L275.8,171.7 M275.8,171.7 L277.3,171.7 M277.3,171.7 L278.9,171.7 M278.9,171.7 L280.5,171.7 M280.5,171.7 L282.1,171.7 M282.1,171.7 L283.7,171.7 M283.7,171.7 L285.2,171.7 M285.2,171.7 L286.8,171.7 M286.8,171.7 L288.4,171.7 M288.4,171.7 L290.0,171.7 M290.0,171.7 L291.5,171.7 M291.5,171.7 L293.0,171.7 M293.0,171.7 L294.5,171.7 M294.5,171.7 L296.0,171.7 M433.3,171.7 L435.0,171.7" stroke="#6a4aa0" stroke-width="1.9" fill="none"/><path d="M296.0,170.5 L297.5,170.4 L299.0,170.3 L300.5,170.2 L302.0,170.1 L303.5,170.0 L305.0,169.9 L306.7,169.8 L308.3,168.3 L310.0,169.0 L311.7,167.8 L313.3,166.5 L315.0,166.6 L316.7,165.8 L318.3,164.5 L320.0,163.8 L321.7,162.0 L323.3,162.2 L325.0,160.6 L326.7,159.3 L328.3,157.4 L330.0,155.3 L331.7,153.8 L333.3,153.1 L335.0,152.0 L336.7,149.4 L338.3,146.8 L340.0,144.0 L341.7,142.3 L343.3,142.6 L345.0,140.8 L346.7,140.1 L348.3,138.3 L350.0,137.9 L352.0,139.9 L354.0,141.0 L356.0,143.6 L358.0,146.1 L360.0,149.7 L362.0,153.9 L363.5,156.0 L365.0,159.5 L366.7,160.9 L368.3,163.0 L370.0,164.4 L371.7,164.0 L373.3,164.1 L375.0,165.2 L376.7,166.1 L378.3,167.0 L380.0,168.1 L381.6,168.3 L383.3,167.0 L384.9,168.5 L386.6,168.6 L388.2,168.9 L389.9,168.5 L391.5,168.1 L393.1,169.0 L394.8,168.7 L396.4,168.3 L398.1,168.6 L399.7,167.4 L401.4,166.7 L403.0,167.4 L404.5,167.6 L406.0,166.3 L407.5,167.0 L409.0,167.1 L410.5,165.6 L412.0,166.0 L413.7,165.7 L415.3,164.9 L417.0,164.1 L418.6,164.6 L420.2,166.0 L421.8,166.6 L423.4,166.4 L425.0,166.3 L426.7,168.3 L428.3,169.1 L430.0,168.9 L431.7,170.1 L433.3,170.9" fill="none" stroke="#6a4aa0" stroke-width="2.4" stroke-linejoin="round" stroke-linecap="round"/>
<path d="M271.0,180.5 L271.0,178.9 L273.0,179.8 L275.0,180.7 L276.5,180.5 L278.0,180.3 L279.5,180.2 L281.0,180.0 L282.5,179.8 L284.0,179.6 L285.5,179.4 L287.0,179.3 L288.5,179.1 L290.0,178.9 L291.7,178.6 L293.3,178.7 L295.0,178.2 L296.7,177.1 L298.3,176.6 L300.0,176.4 L301.7,175.1 L303.3,174.5 L305.0,174.0 L306.7,174.4 L308.3,173.2 L310.0,173.0 L311.6,171.9 L313.2,171.3 L314.8,169.8 L316.4,168.8 L318.0,169.7 L319.7,167.2 L321.3,165.4 L323.0,165.0 L324.7,163.5 L326.3,160.6 L328.0,159.6 L329.7,157.6 L331.3,156.3 L333.0,153.8 L335.0,152.2 L337.0,152.2 L338.5,151.2 L340.0,149.7 L341.7,151.6 L343.3,152.9 L345.0,155.6 L346.7,157.0 L348.3,160.0 L350.0,161.7 L351.7,164.0 L353.3,166.5 L355.0,167.5 L356.7,169.8 L358.3,172.8 L360.0,175.4 L361.7,176.8 L363.3,179.0 L365.0,180.5 L365.0,180.5 Z" fill="#d8aee0" stroke="none"/><path d="M270.2,180.5 L271.0,180.5 M365.0,180.5 L518.0,180.5 M273.0,180.5 L275.0,180.5 M275.0,180.5 L276.5,180.5 M276.5,180.5 L278.0,180.5 M278.0,180.5 L279.5,180.5 M279.5,180.5 L281.0,180.5 M281.0,180.5 L282.5,180.5 M282.5,180.5 L284.0,180.5 M284.0,180.5 L285.5,180.5" stroke="#92308c" stroke-width="1.2" fill="none"/><path d="M271.0,178.9 L273.0,179.8 M285.5,179.4 L287.0,179.3 L288.5,179.1 L290.0,178.9 L291.7,178.6 L293.3,178.7 L295.0,178.2 L296.7,177.1 L298.3,176.6 L300.0,176.4 L301.7,175.1 L303.3,174.5 L305.0,174.0 L306.7,174.4 L308.3,173.2 L310.0,173.0 L311.6,171.9 L313.2,171.3 L314.8,169.8 L316.4,168.8 L318.0,169.7 L319.7,167.2 L321.3,165.4 L323.0,165.0 L324.7,163.5 L326.3,160.6 L328.0,159.6 L329.7,157.6 L331.3,156.3 L333.0,153.8 L335.0,152.2 L337.0,152.2 L338.5,151.2 L340.0,149.7 L341.7,151.6 L343.3,152.9 L345.0,155.6 L346.7,157.0 L348.3,160.0 L350.0,161.7 L351.7,164.0 L353.3,166.5 L355.0,167.5 L356.7,169.8 L358.3,172.8 L360.0,175.4 L361.7,176.8 L363.3,179.0 L365.0,180.5" fill="none" stroke="#92308c" stroke-width="1.6" stroke-linejoin="round" stroke-linecap="round"/>
<path d="M271.0,189.0 L271.0,189.0 L272.5,189.0 L274.1,188.9 L275.6,188.9 L277.1,188.9 L278.6,188.8 L280.2,188.8 L281.7,188.8 L283.2,188.7 L284.7,188.7 L286.3,188.7 L287.8,188.7 L289.3,188.6 L290.8,188.6 L292.4,188.6 L293.9,188.5 L295.4,188.5 L296.9,188.5 L298.5,188.4 L300.0,188.4 L301.5,188.2 L303.1,188.1 L304.6,187.9 L306.2,187.8 L307.7,187.6 L309.2,187.4 L310.8,187.3 L312.3,187.1 L313.8,186.1 L315.4,186.9 L316.9,187.3 L318.5,186.4 L320.0,187.1 L321.5,186.9 L323.0,185.3 L324.5,186.1 L326.0,185.6 L327.5,185.0 L329.0,186.4 L330.5,185.0 L332.0,185.4 L333.7,184.1 L335.3,183.3 L337.0,181.3 L338.6,180.6 L340.2,180.4 L341.9,179.6 L343.5,180.8 L345.1,180.6 L346.8,179.0 L348.4,178.4 L350.0,178.6 L351.5,179.4 L353.0,181.1 L354.5,181.8 L356.0,182.3 L357.5,181.6 L359.0,183.6 L360.5,184.1 L362.0,184.7 L363.7,185.4 L365.4,183.8 L367.0,184.0 L368.7,185.2 L370.4,185.6 L372.0,185.2 L373.7,184.7 L375.4,185.3 L377.1,185.5 L378.8,184.2 L380.4,184.5 L382.1,184.3 L383.8,184.0 L385.4,184.5 L387.1,183.9 L388.8,183.9 L390.5,183.3 L392.2,183.8 L393.9,182.1 L395.6,182.9 L397.3,181.4 L399.0,180.7 L400.5,182.1 L402.0,180.7 L403.5,181.9 L405.0,181.7 L407.0,180.5 L409.0,178.1 L410.6,177.4 L412.3,175.5 L414.0,175.8 L415.6,174.4 L418.5,164.4 L420.4,161.3 L422.3,158.2 L425.0,158.1 L426.7,157.9 L428.6,160.9 L430.6,162.9 L433.4,171.0 L435.1,173.0 L436.9,176.5 L438.4,178.1 L440.0,179.3 L441.5,182.6 L443.0,183.4 L444.6,185.6 L446.1,187.7 L449.0,189.0 L449.0,189.0 Z" fill="#fff" stroke="none"/><path d="M270.2,189.0 L271.0,189.0 M449.0,189.0 L518.0,189.0 M271.0,189.0 L272.5,189.0 M272.5,189.0 L274.1,189.0 M274.1,189.0 L275.6,189.0 M275.6,189.0 L277.1,189.0 M277.1,189.0 L278.6,189.0 M278.6,189.0 L280.2,189.0 M280.2,189.0 L281.7,189.0 M281.7,189.0 L283.2,189.0 M283.2,189.0 L284.7,189.0 M284.7,189.0 L286.3,189.0 M286.3,189.0 L287.8,189.0 M287.8,189.0 L289.3,189.0 M289.3,189.0 L290.8,189.0 M290.8,189.0 L292.4,189.0 M292.4,189.0 L293.9,189.0 M293.9,189.0 L295.4,189.0 M295.4,189.0 L296.9,189.0 M296.9,189.0 L298.5,189.0 M298.5,189.0 L300.0,189.0 M300.0,189.0 L301.5,189.0 M301.5,189.0 L303.1,189.0 M303.1,189.0 L304.6,189.0" stroke="#92308c" stroke-width="1.9" fill="none"/><path d="M304.6,187.9 L306.2,187.8 L307.7,187.6 L309.2,187.4 L310.8,187.3 L312.3,187.1 L313.8,186.1 L315.4,186.9 L316.9,187.3 L318.5,186.4 L320.0,187.1 L321.5,186.9 L323.0,185.3 L324.5,186.1 L326.0,185.6 L327.5,185.0 L329.0,186.4 L330.5,185.0 L332.0,185.4 L333.7,184.1 L335.3,183.3 L337.0,181.3 L338.6,180.6 L340.2,180.4 L341.9,179.6 L343.5,180.8 L345.1,180.6 L346.8,179.0 L348.4,178.4 L350.0,178.6 L351.5,179.4 L353.0,181.1 L354.5,181.8 L356.0,182.3 L357.5,181.6 L359.0,183.6 L360.5,184.1 L362.0,184.7 L363.7,185.4 L365.4,183.8 L367.0,184.0 L368.7,185.2 L370.4,185.6 L372.0,185.2 L373.7,184.7 L375.4,185.3 L377.1,185.5 L378.8,184.2 L380.4,184.5 L382.1,184.3 L383.8,184.0 L385.4,184.5 L387.1,183.9 L388.8,183.9 L390.5,183.3 L392.2,183.8 L393.9,182.1 L395.6,182.9 L397.3,181.4 L399.0,180.7 L400.5,182.1 L402.0,180.7 L403.5,181.9 L405.0,181.7 L407.0,180.5 L409.0,178.1 L410.6,177.4 L412.3,175.5 L414.0,175.8 L415.6,174.4 L418.5,164.4 L420.4,161.3 L422.3,158.2 L425.0,158.1 L426.7,157.9 L428.6,160.9 L430.6,162.9 L433.4,171.0 L435.1,173.0 L436.9,176.5 L438.4,178.1 L440.0,179.3 L441.5,182.6 L443.0,183.4 L444.6,185.6 L446.1,187.7 L449.0,189.0" fill="none" stroke="#92308c" stroke-width="2.4" stroke-linejoin="round" stroke-linecap="round"/>
<path d="M271.0,198.2 L271.0,198.0 L272.5,198.0 L274.0,198.0 L275.5,197.9 L277.0,197.9 L278.5,197.9 L280.0,197.9 L281.5,197.9 L283.0,197.8 L284.5,197.8 L286.0,197.8 L287.5,197.8 L289.0,197.8 L290.5,197.8 L292.0,197.7 L293.5,197.7 L295.0,197.7 L296.5,197.7 L298.0,197.7 L299.5,197.6 L301.0,197.6 L302.5,197.6 L304.0,197.6 L305.5,197.6 L307.0,197.5 L308.5,197.5 L310.0,197.5 L311.6,197.2 L313.2,196.9 L314.8,196.6 L316.4,196.3 L318.0,195.4 L319.8,194.8 L321.5,195.1 L323.2,193.5 L325.0,192.4 L326.5,191.5 L328.0,189.7 L329.5,189.2 L331.0,186.3 L332.5,186.4 L334.0,183.2 L335.5,183.2 L337.0,181.3 L339.0,178.7 L341.0,177.5 L343.0,174.4 L345.0,171.6 L346.7,169.9 L348.3,168.6 L350.0,168.1 L351.5,168.7 L353.0,169.3 L354.5,169.5 L356.0,171.6 L357.5,176.7 L359.0,179.2 L360.6,183.7 L362.1,186.3 L363.7,190.9 L365.3,191.3 L366.9,194.9 L368.5,196.5 L370.0,197.1 L371.5,197.6 L373.0,198.2 L373.0,198.2 Z" fill="#daa8a8" stroke="none"/><path d="M270.2,198.2 L271.0,198.2 M373.0,198.2 L518.0,198.2 M271.0,198.2 L272.5,198.2 M272.5,198.2 L274.0,198.2 M274.0,198.2 L275.5,198.2 M275.5,198.2 L277.0,198.2 M277.0,198.2 L278.5,198.2 M278.5,198.2 L280.0,198.2 M280.0,198.2 L281.5,198.2 M281.5,198.2 L283.0,198.2 M283.0,198.2 L284.5,198.2 M284.5,198.2 L286.0,198.2 M286.0,198.2 L287.5,198.2 M287.5,198.2 L289.0,198.2 M289.0,198.2 L290.5,198.2 M290.5,198.2 L292.0,198.2 M292.0,198.2 L293.5,198.2 M293.5,198.2 L295.0,198.2 M295.0,198.2 L296.5,198.2 M296.5,198.2 L298.0,198.2 M298.0,198.2 L299.5,198.2 M299.5,198.2 L301.0,198.2 M301.0,198.2 L302.5,198.2 M302.5,198.2 L304.0,198.2 M304.0,198.2 L305.5,198.2 M305.5,198.2 L307.0,198.2 M307.0,198.2 L308.5,198.2 M308.5,198.2 L310.0,198.2 M310.0,198.2 L311.6,198.2 M370.0,198.2 L371.5,198.2 M371.5,198.2 L373.0,198.2" stroke="#8c1c30" stroke-width="1.2" fill="none"/><path d="M311.6,197.2 L313.2,196.9 L314.8,196.6 L316.4,196.3 L318.0,195.4 L319.8,194.8 L321.5,195.1 L323.2,193.5 L325.0,192.4 L326.5,191.5 L328.0,189.7 L329.5,189.2 L331.0,186.3 L332.5,186.4 L334.0,183.2 L335.5,183.2 L337.0,181.3 L339.0,178.7 L341.0,177.5 L343.0,174.4 L345.0,171.6 L346.7,169.9 L348.3,168.6 L350.0,168.1 L351.5,168.7 L353.0,169.3 L354.5,169.5 L356.0,171.6 L357.5,176.7 L359.0,179.2 L360.6,183.7 L362.1,186.3 L363.7,190.9 L365.3,191.3 L366.9,194.9 L368.5,196.5 L370.0,197.1" fill="none" stroke="#8c1c30" stroke-width="1.6" stroke-linejoin="round" stroke-linecap="round"/>
<path d="M271.0,206.6 L271.0,206.5 L272.5,206.5 L274.0,206.5 L275.6,206.4 L277.1,206.4 L278.6,206.4 L280.1,206.4 L281.6,206.4 L283.1,206.3 L284.7,206.3 L286.2,206.3 L287.7,206.3 L289.2,206.3 L290.7,206.2 L292.2,206.2 L293.8,206.2 L295.3,206.2 L296.8,206.1 L298.3,206.1 L299.8,206.1 L301.3,206.1 L302.9,206.1 L304.4,206.0 L305.9,206.0 L307.4,206.0 L308.9,206.0 L310.4,206.0 L312.0,205.9 L313.5,205.9 L315.0,205.9 L316.5,205.8 L318.0,205.6 L319.5,205.5 L321.0,205.3 L322.5,205.2 L324.0,205.1 L325.5,204.9 L327.0,204.8 L328.5,204.6 L330.0,204.2 L331.8,203.4 L333.5,202.6 L335.2,203.6 L337.0,202.5 L338.6,202.1 L340.2,202.8 L341.9,203.8 L343.5,202.7 L345.1,203.6 L346.8,203.0 L348.4,203.2 L350.0,204.5 L351.6,204.6 L353.2,203.9 L354.9,204.7 L356.5,204.9 L358.1,205.1 L359.7,205.3 L361.4,205.6 L363.0,205.8 L364.6,206.0 L366.1,205.9 L367.7,205.8 L369.2,205.7 L370.8,205.6 L372.3,205.5 L373.9,205.4 L375.4,205.3 L377.1,205.1 L378.8,204.8 L380.4,203.8 L382.1,203.6 L383.8,204.2 L385.4,203.8 L387.1,203.1 L388.8,202.8 L390.4,203.1 L392.0,202.8 L393.6,202.5 L395.1,201.6 L396.7,200.5 L398.3,199.8 L400.0,200.3 L401.6,199.1 L403.3,199.0 L405.0,197.1 L406.8,195.5 L408.5,191.7 L410.3,189.4 L412.2,186.2 L414.0,182.3 L415.7,179.2 L417.3,178.6 L419.0,175.6 L421.0,180.7 L423.5,187.6 L425.2,191.9 L427.0,197.6 L428.5,198.9 L430.0,200.7 L431.5,203.3 L433.4,204.7 L435.4,205.6 L437.3,206.6 L437.3,206.6 Z" fill="#fff" stroke="none"/><path d="M270.2,206.6 L271.0,206.6 M437.3,206.6 L518.0,206.6 M271.0,206.6 L272.5,206.6 M272.5,206.6 L274.0,206.6 M274.0,206.6 L275.6,206.6 M275.6,206.6 L277.1,206.6 M277.1,206.6 L278.6,206.6 M278.6,206.6 L280.1,206.6 M280.1,206.6 L281.6,206.6 M281.6,206.6 L283.1,206.6 M283.1,206.6 L284.7,206.6 M284.7,206.6 L286.2,206.6 M286.2,206.6 L287.7,206.6 M287.7,206.6 L289.2,206.6 M289.2,206.6 L290.7,206.6 M290.7,206.6 L292.2,206.6 M292.2,206.6 L293.8,206.6 M293.8,206.6 L295.3,206.6 M295.3,206.6 L296.8,206.6 M296.8,206.6 L298.3,206.6 M298.3,206.6 L299.8,206.6 M299.8,206.6 L301.3,206.6 M301.3,206.6 L302.9,206.6 M302.9,206.6 L304.4,206.6 M304.4,206.6 L305.9,206.6 M305.9,206.6 L307.4,206.6 M307.4,206.6 L308.9,206.6 M308.9,206.6 L310.4,206.6 M310.4,206.6 L312.0,206.6 M312.0,206.6 L313.5,206.6 M313.5,206.6 L315.0,206.6 M315.0,206.6 L316.5,206.6 M316.5,206.6 L318.0,206.6 M318.0,206.6 L319.5,206.6 M361.4,206.6 L363.0,206.6 M363.0,206.6 L364.6,206.6 M364.6,206.6 L366.1,206.6 M366.1,206.6 L367.7,206.6 M367.7,206.6 L369.2,206.6 M369.2,206.6 L370.8,206.6 M370.8,206.6 L372.3,206.6 M372.3,206.6 L373.9,206.6 M435.4,206.6 L437.3,206.6" stroke="#8c1c30" stroke-width="1.9" fill="none"/><path d="M319.5,205.5 L321.0,205.3 L322.5,205.2 L324.0,205.1 L325.5,204.9 L327.0,204.8 L328.5,204.6 L330.0,204.2 L331.8,203.4 L333.5,202.6 L335.2,203.6 L337.0,202.5 L338.6,202.1 L340.2,202.8 L341.9,203.8 L343.5,202.7 L345.1,203.6 L346.8,203.0 L348.4,203.2 L350.0,204.5 L351.6,204.6 L353.2,203.9 L354.9,204.7 L356.5,204.9 L358.1,205.1 L359.7,205.3 L361.4,205.6 M373.9,205.4 L375.4,205.3 L377.1,205.1 L378.8,204.8 L380.4,203.8 L382.1,203.6 L383.8,204.2 L385.4,203.8 L387.1,203.1 L388.8,202.8 L390.4,203.1 L392.0,202.8 L393.6,202.5 L395.1,201.6 L396.7,200.5 L398.3,199.8 L400.0,200.3 L401.6,199.1 L403.3,199.0 L405.0,197.1 L406.8,195.5 L408.5,191.7 L410.3,189.4 L412.2,186.2 L414.0,182.3 L415.7,179.2 L417.3,178.6 L419.0,175.6 L421.0,180.7 L423.5,187.6 L425.2,191.9 L427.0,197.6 L428.5,198.9 L430.0,200.7 L431.5,203.3 L433.4,204.7 L435.4,205.6" fill="none" stroke="#8c1c30" stroke-width="2.4" stroke-linejoin="round" stroke-linecap="round"/>
<path d="M271.0,215.4 L271.0,215.4 L272.5,215.4 L274.0,215.4 L275.5,215.4 L277.0,215.4 L278.6,215.4 L280.1,215.4 L281.6,215.3 L283.1,215.3 L284.6,215.3 L286.1,215.3 L287.6,215.3 L289.1,215.3 L290.6,215.3 L292.2,215.3 L293.7,215.3 L295.2,215.3 L296.7,215.3 L298.2,215.3 L299.7,215.3 L301.2,215.2 L302.7,215.2 L304.3,215.2 L305.8,215.2 L307.3,215.2 L308.8,215.2 L310.3,215.2 L311.8,214.8 L313.4,214.5 L314.9,214.1 L316.5,213.8 L318.0,213.4 L319.5,212.2 L321.1,212.8 L322.6,212.3 L324.2,212.1 L325.7,211.0 L327.2,211.0 L328.8,210.0 L330.4,209.0 L331.9,206.9 L333.4,206.5 L335.0,204.8 L337.0,202.5 L339.0,198.2 L341.0,197.1 L343.0,194.6 L344.9,190.7 L346.8,187.7 L348.5,187.2 L350.0,186.0 L351.5,184.0 L353.0,184.5 L354.5,184.4 L356.0,185.4 L357.5,188.8 L359.0,192.6 L360.9,199.1 L362.7,203.2 L364.4,206.3 L366.0,210.4 L368.0,211.7 L370.0,214.5 L371.5,214.9 L373.0,215.4 L373.0,215.4 Z" fill="#d8d8d8" stroke="none"/><path d="M270.2,215.4 L271.0,215.4 M373.0,215.4 L518.0,215.4 M271.0,215.4 L272.5,215.4 M272.5,215.4 L274.0,215.4 M274.0,215.4 L275.5,215.4 M275.5,215.4 L277.0,215.4 M277.0,215.4 L278.6,215.4 M278.6,215.4 L280.1,215.4 M280.1,215.4 L281.6,215.4 M281.6,215.4 L283.1,215.4 M283.1,215.4 L284.6,215.4 M284.6,215.4 L286.1,215.4 M286.1,215.4 L287.6,215.4 M287.6,215.4 L289.1,215.4 M289.1,215.4 L290.6,215.4 M290.6,215.4 L292.2,215.4 M292.2,215.4 L293.7,215.4 M293.7,215.4 L295.2,215.4 M295.2,215.4 L296.7,215.4 M296.7,215.4 L298.2,215.4 M298.2,215.4 L299.7,215.4 M299.7,215.4 L301.2,215.4 M301.2,215.4 L302.7,215.4 M302.7,215.4 L304.3,215.4 M304.3,215.4 L305.8,215.4 M305.8,215.4 L307.3,215.4 M307.3,215.4 L308.8,215.4 M308.8,215.4 L310.3,215.4 M310.3,215.4 L311.8,215.4 M311.8,215.4 L313.4,215.4 M370.0,215.4 L371.5,215.4 M371.5,215.4 L373.0,215.4" stroke="#8c8c8c" stroke-width="1.2" fill="none"/><path d="M313.4,214.5 L314.9,214.1 L316.5,213.8 L318.0,213.4 L319.5,212.2 L321.1,212.8 L322.6,212.3 L324.2,212.1 L325.7,211.0 L327.2,211.0 L328.8,210.0 L330.4,209.0 L331.9,206.9 L333.4,206.5 L335.0,204.8 L337.0,202.5 L339.0,198.2 L341.0,197.1 L343.0,194.6 L344.9,190.7 L346.8,187.7 L348.5,187.2 L350.0,186.0 L351.5,184.0 L353.0,184.5 L354.5,184.4 L356.0,185.4 L357.5,188.8 L359.0,192.6 L360.9,199.1 L362.7,203.2 L364.4,206.3 L366.0,210.4 L368.0,211.7 L370.0,214.5" fill="none" stroke="#8c8c8c" stroke-width="1.6" stroke-linejoin="round" stroke-linecap="round"/>
<path d="M271.0,223.8 L271.0,223.8 L272.5,223.8 L274.0,223.8 L275.5,223.8 L277.1,223.8 L278.6,223.8 L280.1,223.8 L281.6,223.8 L283.1,223.8 L284.6,223.8 L286.1,223.8 L287.7,223.8 L289.2,223.8 L290.7,223.7 L292.2,223.7 L293.7,223.7 L295.2,223.7 L296.7,223.7 L298.2,223.7 L299.8,223.7 L301.3,223.7 L302.8,223.7 L304.3,223.7 L305.8,223.7 L307.3,223.7 L308.8,223.7 L310.4,223.7 L311.9,223.7 L313.4,223.7 L314.9,223.7 L316.4,223.7 L317.9,223.7 L319.4,223.7 L321.0,223.7 L322.5,223.7 L324.0,223.7 L325.5,223.7 L327.0,223.6 L328.5,223.6 L330.0,223.6 L331.6,223.6 L333.1,223.6 L334.6,223.6 L336.1,223.6 L337.6,223.6 L339.1,223.6 L340.6,223.6 L342.2,223.6 L343.7,223.6 L345.2,223.6 L346.7,223.6 L348.2,223.6 L349.7,223.6 L351.2,223.6 L352.8,223.6 L354.3,223.6 L355.8,223.6 L357.3,223.6 L358.8,223.6 L360.3,223.6 L361.8,223.6 L363.3,223.5 L364.9,223.5 L366.4,223.5 L367.9,223.5 L369.4,223.5 L370.9,223.5 L372.4,223.5 L373.9,223.5 L375.5,223.5 L377.0,223.5 L378.5,223.5 L380.0,223.5 L381.5,223.3 L383.1,223.1 L384.6,222.9 L386.2,222.7 L387.7,222.5 L389.2,222.3 L390.8,222.2 L392.3,222.0 L393.8,220.9 L395.4,221.8 L396.9,221.5 L398.5,221.2 L400.0,221.4 L401.7,219.5 L403.4,220.1 L405.1,219.0 L406.8,217.0 L408.5,216.3 L410.0,214.7 L411.5,212.3 L413.0,209.6 L414.5,206.1 L416.0,203.3 L418.0,198.6 L420.0,195.2 L422.0,193.1 L423.9,195.1 L425.8,199.1 L427.7,205.9 L429.6,211.4 L431.5,215.9 L433.5,219.5 L435.4,222.0 L437.3,222.6 L439.1,223.2 L441.0,223.8 L441.0,223.8 Z" fill="#fff" stroke="none"/><path d="M270.2,223.8 L271.0,223.8 M441.0,223.8 L518.0,223.8 M271.0,223.8 L272.5,223.8 M272.5,223.8 L274.0,223.8 M274.0,223.8 L275.5,223.8 M275.5,223.8 L277.1,223.8 M277.1,223.8 L278.6,223.8 M278.6,223.8 L280.1,223.8 M280.1,223.8 L281.6,223.8 M281.6,223.8 L283.1,223.8 M283.1,223.8 L284.6,223.8 M284.6,223.8 L286.1,223.8 M286.1,223.8 L287.7,223.8 M287.7,223.8 L289.2,223.8 M289.2,223.8 L290.7,223.8 M290.7,223.8 L292.2,223.8 M292.2,223.8 L293.7,223.8 M293.7,223.8 L295.2,223.8 M295.2,223.8 L296.7,223.8 M296.7,223.8 L298.2,223.8 M298.2,223.8 L299.8,223.8 M299.8,223.8 L301.3,223.8 M301.3,223.8 L302.8,223.8 M302.8,223.8 L304.3,223.8 M304.3,223.8 L305.8,223.8 M305.8,223.8 L307.3,223.8 M307.3,223.8 L308.8,223.8 M308.8,223.8 L310.4,223.8 M310.4,223.8 L311.9,223.8 M311.9,223.8 L313.4,223.8 M313.4,223.8 L314.9,223.8 M314.9,223.8 L316.4,223.8 M316.4,223.8 L317.9,223.8 M317.9,223.8 L319.4,223.8 M319.4,223.8 L321.0,223.8 M321.0,223.8 L322.5,223.8 M322.5,223.8 L324.0,223.8 M324.0,223.8 L325.5,223.8 M325.5,223.8 L327.0,223.8 M327.0,223.8 L328.5,223.8 M328.5,223.8 L330.0,223.8 M330.0,223.8 L331.6,223.8 M331.6,223.8 L333.1,223.8 M333.1,223.8 L334.6,223.8 M334.6,223.8 L336.1,223.8 M336.1,223.8 L337.6,223.8 M337.6,223.8 L339.1,223.8 M339.1,223.8 L340.6,223.8 M340.6,223.8 L342.2,223.8 M342.2,223.8 L343.7,223.8 M343.7,223.8 L345.2,223.8 M345.2,223.8 L346.7,223.8 M346.7,223.8 L348.2,223.8 M348.2,223.8 L349.7,223.8 M349.7,223.8 L351.2,223.8 M351.2,223.8 L352.8,223.8 M352.8,223.8 L354.3,223.8 M354.3,223.8 L355.8,223.8 M355.8,223.8 L357.3,223.8 M357.3,223.8 L358.8,223.8 M358.8,223.8 L360.3,223.8 M360.3,223.8 L361.8,223.8 M361.8,223.8 L363.3,223.8 M363.3,223.8 L364.9,223.8 M364.9,223.8 L366.4,223.8 M366.4,223.8 L367.9,223.8 M367.9,223.8 L369.4,223.8 M369.4,223.8 L370.9,223.8 M370.9,223.8 L372.4,223.8 M372.4,223.8 L373.9,223.8 M373.9,223.8 L375.5,223.8 M375.5,223.8 L377.0,223.8 M377.0,223.8 L378.5,223.8 M378.5,223.8 L380.0,223.8 M380.0,223.8 L381.5,223.8 M381.5,223.8 L383.1,223.8 M383.1,223.8 L384.6,223.8 M384.6,223.8 L386.2,223.8 M439.1,223.8 L441.0,223.8" stroke="#8c8c8c" stroke-width="1.9" fill="none"/><path d="M386.2,222.7 L387.7,222.5 L389.2,222.3 L390.8,222.2 L392.3,222.0 L393.8,220.9 L395.4,221.8 L396.9,221.5 L398.5,221.2 L400.0,221.4 L401.7,219.5 L403.4,220.1 L405.1,219.0 L406.8,217.0 L408.5,216.3 L410.0,214.7 L411.5,212.3 L413.0,209.6 L414.5,206.1 L416.0,203.3 L418.0,198.6 L420.0,195.2 L422.0,193.1 L423.9,195.1 L425.8,199.1 L427.7,205.9 L429.6,211.4 L431.5,215.9 L433.5,219.5 L435.4,222.0 L437.3,222.6 L439.1,223.2" fill="none" stroke="#8c8c8c" stroke-width="2.4" stroke-linejoin="round" stroke-linecap="round"/>
<path d="M271.0,232.5 L271.0,232.5 L272.6,232.5 L274.2,232.5 L275.8,232.4 L277.4,232.4 L279.0,232.4 L280.6,232.4 L282.2,232.4 L283.8,232.3 L285.4,232.3 L287.0,232.3 L288.6,232.2 L290.1,232.0 L291.7,231.9 L293.2,231.8 L294.8,231.7 L296.4,231.5 L297.9,231.4 L299.5,231.3 L301.0,231.1 L302.6,231.0 L304.2,230.6 L305.9,229.9 L307.5,229.6 L309.1,229.9 L310.7,228.9 L312.4,228.2 L314.0,228.8 L315.6,227.9 L317.3,226.4 L318.9,225.6 L320.5,225.2 L322.2,224.7 L323.8,225.1 L325.4,223.8 L327.0,223.0 L328.6,221.9 L330.2,221.0 L331.8,218.6 L333.4,218.5 L335.3,218.1 L337.1,216.7 L339.0,214.2 L341.0,212.9 L343.0,211.5 L344.8,209.7 L346.7,208.7 L348.5,206.5 L350.5,205.5 L352.5,203.9 L354.5,202.0 L356.5,201.3 L358.2,202.1 L359.9,201.1 L361.6,204.1 L363.3,206.2 L365.3,206.6 L367.3,206.7 L369.3,208.7 L371.3,209.2 L373.4,213.6 L375.4,216.3 L377.4,219.4 L379.4,221.0 L381.4,223.5 L383.5,226.3 L385.0,227.2 L386.5,228.1 L388.0,230.0 L390.0,231.2 L392.0,232.5 L392.0,232.5 Z" fill="#a8a8a8" stroke="none"/><path d="M270.2,232.5 L271.0,232.5 M392.0,232.5 L518.0,232.5 M271.0,232.5 L272.6,232.5 M272.6,232.5 L274.2,232.5 M274.2,232.5 L275.8,232.5 M275.8,232.5 L277.4,232.5 M277.4,232.5 L279.0,232.5 M279.0,232.5 L280.6,232.5 M280.6,232.5 L282.2,232.5 M282.2,232.5 L283.8,232.5 M283.8,232.5 L285.4,232.5 M285.4,232.5 L287.0,232.5 M287.0,232.5 L288.6,232.5 M288.6,232.5 L290.1,232.5 M290.1,232.5 L291.7,232.5 M291.7,232.5 L293.2,232.5 M293.2,232.5 L294.8,232.5 M294.8,232.5 L296.4,232.5 M296.4,232.5 L297.9,232.5" stroke="#000000" stroke-width="1.2" fill="none"/><path d="M297.9,231.4 L299.5,231.3 L301.0,231.1 L302.6,231.0 L304.2,230.6 L305.9,229.9 L307.5,229.6 L309.1,229.9 L310.7,228.9 L312.4,228.2 L314.0,228.8 L315.6,227.9 L317.3,226.4 L318.9,225.6 L320.5,225.2 L322.2,224.7 L323.8,225.1 L325.4,223.8 L327.0,223.0 L328.6,221.9 L330.2,221.0 L331.8,218.6 L333.4,218.5 L335.3,218.1 L337.1,216.7 L339.0,214.2 L341.0,212.9 L343.0,211.5 L344.8,209.7 L346.7,208.7 L348.5,206.5 L350.5,205.5 L352.5,203.9 L354.5,202.0 L356.5,201.3 L358.2,202.1 L359.9,201.1 L361.6,204.1 L363.3,206.2 L365.3,206.6 L367.3,206.7 L369.3,208.7 L371.3,209.2 L373.4,213.6 L375.4,216.3 L377.4,219.4 L379.4,221.0 L381.4,223.5 L383.5,226.3 L385.0,227.2 L386.5,228.1 L388.0,230.0 L390.0,231.2 L392.0,232.5" fill="none" stroke="#000000" stroke-width="1.6" stroke-linejoin="round" stroke-linecap="round"/>
<path d="M271.0,241.0 L271.0,241.0 L272.5,241.0 L274.0,241.0 L275.5,241.0 L277.1,241.0 L278.6,241.0 L280.1,241.0 L281.6,241.0 L283.1,241.0 L284.6,241.0 L286.1,241.0 L287.7,241.0 L289.2,241.0 L290.7,241.0 L292.2,241.0 L293.7,241.0 L295.2,241.0 L296.8,241.0 L298.3,241.0 L299.8,241.0 L301.3,241.0 L302.8,241.0 L304.3,241.0 L305.8,241.0 L307.4,241.0 L308.9,241.0 L310.4,241.0 L311.9,241.0 L313.4,241.0 L314.9,241.0 L316.4,241.0 L318.0,241.0 L319.5,241.0 L321.0,241.0 L322.5,241.0 L324.0,241.0 L325.5,241.0 L327.1,241.0 L328.6,241.0 L330.1,241.0 L331.6,241.0 L333.1,241.0 L334.6,241.0 L336.1,241.0 L337.7,241.0 L339.2,241.0 L340.7,241.0 L342.2,241.0 L343.7,241.0 L345.2,241.0 L346.8,241.0 L348.3,241.0 L349.8,241.0 L351.3,241.0 L352.8,241.0 L354.3,241.0 L355.8,241.0 L357.4,241.0 L358.9,241.0 L360.4,241.0 L361.9,241.0 L363.5,240.2 L365.1,239.4 L366.8,238.4 L368.4,238.5 L370.0,236.5 L371.6,235.5 L373.2,235.0 L374.8,233.0 L376.4,232.7 L378.0,232.3 L379.7,229.8 L381.4,227.7 L383.1,226.4 L384.8,224.9 L386.6,222.1 L388.4,220.1 L390.2,218.0 L392.0,216.8 L393.8,215.4 L395.6,213.6 L397.6,211.2 L399.6,208.6 L402.3,213.1 L405.0,213.3 L406.8,215.9 L408.5,218.9 L410.3,222.3 L412.2,224.7 L414.0,228.9 L415.5,230.6 L417.0,232.8 L418.5,235.1 L420.0,236.9 L421.9,238.0 L423.9,239.7 L425.8,241.0 L425.8,241.0 Z" fill="#fff" stroke="none"/><path d="M270.2,241.0 L271.0,241.0 M425.8,241.0 L518.0,241.0 M271.0,241.0 L272.5,241.0 M272.5,241.0 L274.0,241.0 M274.0,241.0 L275.5,241.0 M275.5,241.0 L277.1,241.0 M277.1,241.0 L278.6,241.0 M278.6,241.0 L280.1,241.0 M280.1,241.0 L281.6,241.0 M281.6,241.0 L283.1,241.0 M283.1,241.0 L284.6,241.0 M284.6,241.0 L286.1,241.0 M286.1,241.0 L287.7,241.0 M287.7,241.0 L289.2,241.0 M289.2,241.0 L290.7,241.0 M290.7,241.0 L292.2,241.0 M292.2,241.0 L293.7,241.0 M293.7,241.0 L295.2,241.0 M295.2,241.0 L296.8,241.0 M296.8,241.0 L298.3,241.0 M298.3,241.0 L299.8,241.0 M299.8,241.0 L301.3,241.0 M301.3,241.0 L302.8,241.0 M302.8,241.0 L304.3,241.0 M304.3,241.0 L305.8,241.0 M305.8,241.0 L307.4,241.0 M307.4,241.0 L308.9,241.0 M308.9,241.0 L310.4,241.0 M310.4,241.0 L311.9,241.0 M311.9,241.0 L313.4,241.0 M313.4,241.0 L314.9,241.0 M314.9,241.0 L316.4,241.0 M316.4,241.0 L318.0,241.0 M318.0,241.0 L319.5,241.0 M319.5,241.0 L321.0,241.0 M321.0,241.0 L322.5,241.0 M322.5,241.0 L324.0,241.0 M324.0,241.0 L325.5,241.0 M325.5,241.0 L327.1,241.0 M327.1,241.0 L328.6,241.0 M328.6,241.0 L330.1,241.0 M330.1,241.0 L331.6,241.0 M331.6,241.0 L333.1,241.0 M333.1,241.0 L334.6,241.0 M334.6,241.0 L336.1,241.0 M336.1,241.0 L337.7,241.0 M337.7,241.0 L339.2,241.0 M339.2,241.0 L340.7,241.0 M340.7,241.0 L342.2,241.0 M342.2,241.0 L343.7,241.0 M343.7,241.0 L345.2,241.0 M345.2,241.0 L346.8,241.0 M346.8,241.0 L348.3,241.0 M348.3,241.0 L349.8,241.0 M349.8,241.0 L351.3,241.0 M351.3,241.0 L352.8,241.0 M352.8,241.0 L354.3,241.0 M354.3,241.0 L355.8,241.0 M355.8,241.0 L357.4,241.0 M357.4,241.0 L358.9,241.0 M358.9,241.0 L360.4,241.0 M360.4,241.0 L361.9,241.0 M361.9,241.0 L363.5,241.0" stroke="#000000" stroke-width="1.9" fill="none"/><path d="M363.5,240.2 L365.1,239.4 L366.8,238.4 L368.4,238.5 L370.0,236.5 L371.6,235.5 L373.2,235.0 L374.8,233.0 L376.4,232.7 L378.0,232.3 L379.7,229.8 L381.4,227.7 L383.1,226.4 L384.8,224.9 L386.6,222.1 L388.4,220.1 L390.2,218.0 L392.0,216.8 L393.8,215.4 L395.6,213.6 L397.6,211.2 L399.6,208.6 L402.3,213.1 L405.0,213.3 L406.8,215.9 L408.5,218.9 L410.3,222.3 L412.2,224.7 L414.0,228.9 L415.5,230.6 L417.0,232.8 L418.5,235.1 L420.0,236.9 L421.9,238.0 L423.9,239.7 L425.8,241.0" fill="none" stroke="#000000" stroke-width="2.4" stroke-linejoin="round" stroke-linecap="round"/>
<text x="515.8" y="57.9" font-size="10.4" font-weight="bold" fill="#c8102e" text-anchor="end" textLength="26.5" lengthAdjust="spacingAndGlyphs" stroke="#c8102e" stroke-width="0.6" >ALL18</text>
<text x="515.8" y="77.1" font-size="10.4" font-weight="bold" fill="#f0a050" text-anchor="end" textLength="26.5" lengthAdjust="spacingAndGlyphs" stroke="#f0a050" stroke-width="0.6" >ALL81</text>
<text x="515.8" y="94.0" font-size="10.4" font-weight="bold" fill="#c8c838" text-anchor="end" textLength="26.5" lengthAdjust="spacingAndGlyphs" stroke="#c8c838" stroke-width="0.6" >ALL99</text>
<text x="515.8" y="111.5" font-size="10.4" font-weight="bold" fill="#3a9a4a" text-anchor="end" textLength="22" lengthAdjust="spacingAndGlyphs" stroke="#3a9a4a" stroke-width="0.6" >ALL1</text>
<text x="515.8" y="129.0" font-size="10.4" font-weight="bold" fill="#4a78b0" text-anchor="end" textLength="26.5" lengthAdjust="spacingAndGlyphs" stroke="#4a78b0" stroke-width="0.6" >ALL13</text>
<text x="515.8" y="145.9" font-size="10.4" font-weight="bold" fill="#2a3a8a" text-anchor="end" textLength="26.5" lengthAdjust="spacingAndGlyphs" stroke="#2a3a8a" stroke-width="0.6" >ALL23</text>
<text x="515.8" y="163.5" font-size="10.4" font-weight="bold" fill="#3a3a8a" text-anchor="end" textLength="26.5" lengthAdjust="spacingAndGlyphs" stroke="#3a3a8a" stroke-width="0.6" >ALL16</text>
<text x="515.8" y="180.5" font-size="10.4" font-weight="bold" fill="#a01258" text-anchor="end" textLength="21" lengthAdjust="spacingAndGlyphs" stroke="#a01258" stroke-width="0.6" >ALL5</text>
<text x="515.8" y="198.2" font-size="10.4" font-weight="bold" fill="#6e4a1a" text-anchor="end" textLength="21" lengthAdjust="spacingAndGlyphs" stroke="#6e4a1a" stroke-width="0.6" >ALL8</text>
<text x="515.8" y="215.4" font-size="10.4" font-weight="bold" fill="#a0a0a0" text-anchor="end" textLength="26.5" lengthAdjust="spacingAndGlyphs" stroke="#a0a0a0" stroke-width="0.6" >ALL33</text>
<text x="515.8" y="232.5" font-size="10.4" font-weight="bold" fill="#000000" text-anchor="end" textLength="26.5" lengthAdjust="spacingAndGlyphs" stroke="#000000" stroke-width="0.6" >ALL77</text>
<path d="M269.3,241 L269.3,23 L517.6,23 L517.6,241" fill="none" stroke="#777" stroke-width="1.3"/>
<path d="M518.8,22.4 L518.8,241" fill="none" stroke="#111" stroke-width="1.8"/>
<line x1="269" y1="241.2" x2="518.5" y2="241.2" stroke="#000" stroke-width="2"/>
<path d="M4.4,242.3 L4.4,246.5 M7.5,242.3 L7.5,246.5 M10.0,242.3 L10.0,246.5 M11.9,242.3 L11.9,246.5 M17.5,242.3 L17.5,246.5 M20.6,242.3 L20.6,246.5 M23.1,242.3 L23.1,246.5 M37.5,242.3 L37.5,246.5 M45.6,242.3 L45.6,246.5 M48.1,242.3 L48.1,246.5 M50.6,242.3 L50.6,246.5 M52.5,242.3 L52.5,246.5 M2.0,242.3 L2.0,248.60000000000002 M14.4,242.3 L14.4,248.60000000000002 M41.3,242.3 L41.3,248.60000000000002 M26.3,242.3 L26.3,248.60000000000002 M27.3,242.3 L27.3,248.60000000000002 M55.0,242.3 L55.0,248.60000000000002 M73.2,242.3 L73.2,246.5 M83.9,242.3 L83.9,246.5 M91.5,242.3 L91.5,246.5 M97.4,242.3 L97.4,246.5 M102.2,242.3 L102.2,246.5 M106.2,242.3 L106.2,246.5 M109.7,242.3 L109.7,246.5 M112.8,242.3 L112.8,246.5 M115.6,242.3 L115.6,248.60000000000002 M133.3,242.3 L133.3,246.5 M143.7,242.3 L143.7,246.5 M151.0,242.3 L151.0,246.5 M156.7,242.3 L156.7,246.5 M161.4,242.3 L161.4,246.5 M165.3,242.3 L165.3,246.5 M168.7,242.3 L168.7,246.5 M171.7,242.3 L171.7,246.5 M174.4,242.3 L174.4,248.60000000000002 M191.2,242.3 L191.2,246.5 M201.0,242.3 L201.0,246.5 M208.0,242.3 L208.0,246.5 M213.4,242.3 L213.4,246.5 M217.8,242.3 L217.8,246.5 M221.6,242.3 L221.6,246.5 M224.8,242.3 L224.8,246.5 M227.6,242.3 L227.6,246.5 M230.2,242.3 L230.2,248.60000000000002 M247.0,242.3 L247.0,246.5" stroke="#000" stroke-width="1.3" fill="none"/>
<path d="M272.3,241.7 L272.3,245.89999999999998 M275.4,241.7 L275.4,245.89999999999998 M277.9,241.7 L277.9,245.89999999999998 M279.7,241.7 L279.7,245.89999999999998 M285.2,241.7 L285.2,245.89999999999998 M288.3,241.7 L288.3,245.89999999999998 M290.8,241.7 L290.8,245.89999999999998 M304.9,241.7 L304.9,245.89999999999998 M312.9,241.7 L312.9,245.89999999999998 M315.4,241.7 L315.4,245.89999999999998 M317.8,241.7 L317.8,245.89999999999998 M319.7,241.7 L319.7,245.89999999999998 M270.0,241.7 L270.0,248.0 M282.2,241.7 L282.2,248.0 M308.7,241.7 L308.7,248.0 M293.9,241.7 L293.9,248.0 M294.9,241.7 L294.9,248.0 M322.2,241.7 L322.2,248.0 M340.1,241.7 L340.1,245.89999999999998 M350.7,241.7 L350.7,245.89999999999998 M358.1,241.7 L358.1,245.89999999999998 M363.9,241.7 L363.9,245.89999999999998 M368.6,241.7 L368.6,245.89999999999998 M372.6,241.7 L372.6,245.89999999999998 M376.1,241.7 L376.1,245.89999999999998 M379.1,241.7 L379.1,245.89999999999998 M381.9,241.7 L381.9,248.0 M399.3,241.7 L399.3,245.89999999999998 M409.5,241.7 L409.5,245.89999999999998 M416.7,241.7 L416.7,245.89999999999998 M422.3,241.7 L422.3,245.89999999999998 M426.9,241.7 L426.9,245.89999999999998 M430.8,241.7 L430.8,245.89999999999998 M434.2,241.7 L434.2,245.89999999999998 M437.1,241.7 L437.1,245.89999999999998 M439.8,241.7 L439.8,248.0 M456.3,241.7 L456.3,245.89999999999998 M466.0,241.7 L466.0,245.89999999999998 M472.9,241.7 L472.9,245.89999999999998 M478.2,241.7 L478.2,245.89999999999998 M482.6,241.7 L482.6,245.89999999999998 M486.2,241.7 L486.2,245.89999999999998 M489.4,241.7 L489.4,245.89999999999998 M492.2,241.7 L492.2,245.89999999999998 M494.7,241.7 L494.7,248.0 M511.3,241.7 L511.3,245.89999999999998" stroke="#000" stroke-width="1.3" fill="none"/>
<text x="28.1" y="263.6" font-size="10.4" font-weight="bold" fill="#000" text-anchor="middle" stroke="#000" stroke-width="0.45" >0</text><text x="45.4" y="263.6" font-size="10.4" font-weight="bold" fill="#000" text-anchor="start" textLength="11.3" lengthAdjust="spacingAndGlyphs" stroke="#000" stroke-width="0.45" >10</text><text x="59.6" y="258.6" font-size="8.0" font-weight="bold" fill="#000" text-anchor="start" textLength="4.6" lengthAdjust="spacingAndGlyphs" stroke="#000" stroke-width="0.3" >2</text><text x="105.4" y="263.6" font-size="10.4" font-weight="bold" fill="#000" text-anchor="start" textLength="11.3" lengthAdjust="spacingAndGlyphs" stroke="#000" stroke-width="0.45" >10</text><text x="117.80000000000001" y="258.6" font-size="8.0" font-weight="bold" fill="#000" text-anchor="start" textLength="4.6" lengthAdjust="spacingAndGlyphs" stroke="#000" stroke-width="0.3" >3</text><text x="164.8" y="263.6" font-size="10.4" font-weight="bold" fill="#000" text-anchor="start" textLength="11.3" lengthAdjust="spacingAndGlyphs" stroke="#000" stroke-width="0.45" >10</text><text x="177.20000000000002" y="258.6" font-size="8.0" font-weight="bold" fill="#000" text-anchor="start" textLength="4.6" lengthAdjust="spacingAndGlyphs" stroke="#000" stroke-width="0.3" >4</text><text x="220.6" y="263.6" font-size="10.4" font-weight="bold" fill="#000" text-anchor="start" textLength="11.3" lengthAdjust="spacingAndGlyphs" stroke="#000" stroke-width="0.45" >10</text><text x="233.0" y="258.6" font-size="8.0" font-weight="bold" fill="#000" text-anchor="start" textLength="4.6" lengthAdjust="spacingAndGlyphs" stroke="#000" stroke-width="0.3" >5</text>
<text x="296.6" y="263.6" font-size="10.4" font-weight="bold" fill="#000" text-anchor="middle" stroke="#000" stroke-width="0.45" >0</text><text x="313.4" y="263.6" font-size="10.4" font-weight="bold" fill="#000" text-anchor="start" textLength="11.3" lengthAdjust="spacingAndGlyphs" stroke="#000" stroke-width="0.45" >10</text><text x="325.59999999999997" y="258.6" font-size="8.0" font-weight="bold" fill="#000" text-anchor="start" textLength="4.6" lengthAdjust="spacingAndGlyphs" stroke="#000" stroke-width="0.3" >2</text><text x="372.9" y="263.6" font-size="10.4" font-weight="bold" fill="#000" text-anchor="start" textLength="11.3" lengthAdjust="spacingAndGlyphs" stroke="#000" stroke-width="0.45" >10</text><text x="385.29999999999995" y="258.6" font-size="8.0" font-weight="bold" fill="#000" text-anchor="start" textLength="4.6" lengthAdjust="spacingAndGlyphs" stroke="#000" stroke-width="0.3" >3</text><text x="431.65" y="263.6" font-size="10.4" font-weight="bold" fill="#000" text-anchor="start" textLength="11.3" lengthAdjust="spacingAndGlyphs" stroke="#000" stroke-width="0.45" >10</text><text x="444.04999999999995" y="258.6" font-size="8.0" font-weight="bold" fill="#000" text-anchor="start" textLength="4.6" lengthAdjust="spacingAndGlyphs" stroke="#000" stroke-width="0.3" >4</text><text x="486.65" y="263.6" font-size="10.4" font-weight="bold" fill="#000" text-anchor="start" textLength="11.3" lengthAdjust="spacingAndGlyphs" stroke="#000" stroke-width="0.45" >10</text><text x="499.04999999999995" y="258.6" font-size="8.0" font-weight="bold" fill="#000" text-anchor="start" textLength="4.6" lengthAdjust="spacingAndGlyphs" stroke="#000" stroke-width="0.3" >5</text>
<line x1="2.5" y1="271.7" x2="86.0" y2="271.7" stroke="#000" stroke-width="3"/><path d="M79.9,267.3 L86.5,271.7 L79.9,276.09999999999997" fill="none" stroke="#000" stroke-width="2.9" stroke-linejoin="miter" stroke-miterlimit="10"/>
<line x1="270.5" y1="271.2" x2="355.0" y2="271.2" stroke="#000" stroke-width="3"/><path d="M348.9,266.8 L355.5,271.2 L348.9,275.59999999999997" fill="none" stroke="#000" stroke-width="2.9" stroke-linejoin="miter" stroke-miterlimit="10"/>
<text x="22" y="289.4" font-size="13.8" font-weight="bold" fill="#000" text-anchor="start" textLength="43.5" lengthAdjust="spacingAndGlyphs" >pSTAT5</text>
<text x="290" y="290.2" font-size="13.8" font-weight="bold" fill="#000" text-anchor="start" textLength="43" lengthAdjust="spacingAndGlyphs" >pSTAT5</text>
<text x="0.3" y="325.2" font-size="15.8" font-weight="bold" fill="#000" text-anchor="start" textLength="11" lengthAdjust="spacingAndGlyphs" stroke="#000" stroke-width="0.45" >B</text>
<text x="145" y="326.6" font-size="14.8" font-weight="bold" fill="#000" text-anchor="start" textLength="45" lengthAdjust="spacingAndGlyphs" stroke="#000" stroke-width="0.4" >pSTAT5</text>
<line x1="66.3" y1="347.95" x2="66.3" y2="516.5" stroke="#000" stroke-width="2.2"/><line x1="61.3" y1="515.50" x2="66.3" y2="515.50" stroke="#000" stroke-width="1.8"/><text x="56.4" y="519.0" font-size="9.8" font-weight="normal" fill="#000" text-anchor="end" textLength="4.9" lengthAdjust="spacingAndGlyphs" stroke="#000" stroke-width="0.5" >0</text><line x1="61.3" y1="459.92" x2="66.3" y2="459.92" stroke="#000" stroke-width="1.8"/><text x="56.4" y="463.4166666666667" font-size="9.8" font-weight="normal" fill="#000" text-anchor="end" textLength="19.6" lengthAdjust="spacingAndGlyphs" stroke="#000" stroke-width="0.5" >2000</text><line x1="61.3" y1="404.33" x2="66.3" y2="404.33" stroke="#000" stroke-width="1.8"/><text x="56.4" y="407.8333333333333" font-size="9.8" font-weight="normal" fill="#000" text-anchor="end" textLength="19.6" lengthAdjust="spacingAndGlyphs" stroke="#000" stroke-width="0.5" >4000</text><line x1="61.3" y1="348.75" x2="66.3" y2="348.75" stroke="#000" stroke-width="1.8"/><text x="56.4" y="352.25" font-size="9.8" font-weight="normal" fill="#000" text-anchor="end" textLength="19.6" lengthAdjust="spacingAndGlyphs" stroke="#000" stroke-width="0.5" >6000</text><line x1="62" y1="515.5" x2="139.6" y2="515.5" stroke="#000" stroke-width="2.2"/><text transform="translate(27.9,432.8) rotate(-90)" x="0" y="0" font-size="11" font-weight="normal" text-anchor="middle" textLength="51" lengthAdjust="spacingAndGlyphs" fill="#000" stroke="#000" stroke-width="0.5">pSTAT5 MFI</text>
<path d="M83.5,515.5 L83.5,519.8 M121,515.5 L121,519.8" stroke="#000" stroke-width="1.8"/>
<text transform="translate(85.2,525.2) rotate(-45)" x="0" y="0" font-size="9.2" font-weight="bold" text-anchor="end" textLength="21.5" lengthAdjust="spacingAndGlyphs" fill="#000" stroke="#000" stroke-width="0.15">Basal</text>
<text transform="translate(124,525.5) rotate(-45)" x="0" y="0" font-size="9" font-weight="bold" text-anchor="end" textLength="12.5" lengthAdjust="spacingAndGlyphs" fill="#000" stroke="#000" stroke-width="0.15">IL7</text>
<text x="78.2" y="550.5" font-size="13.8" font-weight="normal" fill="#000" text-anchor="start" textLength="44.8" lengthAdjust="spacingAndGlyphs" stroke="#000" stroke-width="0.4" >ETP-ALL</text>
<line x1="83.5" y1="508" x2="121" y2="358.25" stroke="#000" stroke-width="1.1"/>
<line x1="83.5" y1="506" x2="121" y2="373" stroke="#000" stroke-width="1.1"/>
<line x1="83.5" y1="510" x2="121" y2="387.5" stroke="#000" stroke-width="1.1"/>
<line x1="83.5" y1="504" x2="121" y2="406.25" stroke="#000" stroke-width="1.1"/>
<line x1="83.5" y1="512" x2="121" y2="460.4" stroke="#000" stroke-width="1.1"/>
<line x1="83.5" y1="509" x2="121" y2="468" stroke="#000" stroke-width="1.1"/>
<line x1="83.5" y1="507" x2="121" y2="473" stroke="#000" stroke-width="1.1"/>
<line x1="83.5" y1="511" x2="121" y2="470" stroke="#000" stroke-width="1.1"/>
<rect x="82" y="500.0" width="3" height="3" fill="#e2e2e2" stroke="#c8c8c8" stroke-width="0.5"/>
<rect x="82" y="503.5" width="3" height="3" fill="#e2e2e2" stroke="#c8c8c8" stroke-width="0.5"/>
<rect x="82" y="507.0" width="3" height="3" fill="#e2e2e2" stroke="#c8c8c8" stroke-width="0.5"/>
<rect x="82" y="510.5" width="3" height="3" fill="#e2e2e2" stroke="#c8c8c8" stroke-width="0.5"/>
<rect x="118.4" y="355.65" width="5.2" height="5.2" fill="#1e8c5a"/>
<rect x="118.4" y="370.4" width="5.2" height="5.2" fill="#1e8c5a"/>
<rect x="118.4" y="384.9" width="5.2" height="5.2" fill="#1e8c5a"/>
<rect x="118.4" y="403.65" width="5.2" height="5.2" fill="#1e8c5a"/>
<rect x="118.4" y="457.79999999999995" width="5.2" height="5.2" fill="#1e8c5a"/>
<rect x="118.4" y="465.4" width="5.2" height="5.2" fill="#1e8c5a"/>
<rect x="118.4" y="470.4" width="5.2" height="5.2" fill="#1e8c5a"/>
<rect x="118.4" y="467.4" width="5.2" height="5.2" fill="#1e8c5a"/>
<line x1="217.5" y1="347.2" x2="217.5" y2="516.5" stroke="#000" stroke-width="2.2"/><line x1="212.5" y1="515.50" x2="217.5" y2="515.50" stroke="#000" stroke-width="1.8"/><text x="208.6" y="519.0" font-size="9.8" font-weight="normal" fill="#000" text-anchor="end" textLength="4.9" lengthAdjust="spacingAndGlyphs" stroke="#000" stroke-width="0.5" >0</text><line x1="212.5" y1="459.67" x2="217.5" y2="459.67" stroke="#000" stroke-width="1.8"/><text x="208.6" y="463.1666666666667" font-size="9.8" font-weight="normal" fill="#000" text-anchor="end" textLength="19.6" lengthAdjust="spacingAndGlyphs" stroke="#000" stroke-width="0.5" >2000</text><line x1="212.5" y1="403.83" x2="217.5" y2="403.83" stroke="#000" stroke-width="1.8"/><text x="208.6" y="407.3333333333333" font-size="9.8" font-weight="normal" fill="#000" text-anchor="end" textLength="19.6" lengthAdjust="spacingAndGlyphs" stroke="#000" stroke-width="0.5" >4000</text><line x1="212.5" y1="348.00" x2="217.5" y2="348.00" stroke="#000" stroke-width="1.8"/><text x="208.6" y="351.5" font-size="9.8" font-weight="normal" fill="#000" text-anchor="end" textLength="19.6" lengthAdjust="spacingAndGlyphs" stroke="#000" stroke-width="0.5" >6000</text><line x1="214" y1="515.5" x2="290" y2="515.5" stroke="#000" stroke-width="2.2"/><text transform="translate(179.6,432.8) rotate(-90)" x="0" y="0" font-size="11" font-weight="normal" text-anchor="middle" textLength="51" lengthAdjust="spacingAndGlyphs" fill="#000" stroke="#000" stroke-width="0.5">pSTAT5 MFI</text>
<path d="M236.3,515.5 L236.3,519.8 M273.2,515.5 L273.2,519.8" stroke="#000" stroke-width="1.8"/>
<text transform="translate(238,525.2) rotate(-45)" x="0" y="0" font-size="9.2" font-weight="bold" text-anchor="end" textLength="21.5" lengthAdjust="spacingAndGlyphs" fill="#000" stroke="#000" stroke-width="0.15">Basal</text>
<text transform="translate(276.2,525.5) rotate(-45)" x="0" y="0" font-size="9" font-weight="bold" text-anchor="end" textLength="12.5" lengthAdjust="spacingAndGlyphs" fill="#000" stroke="#000" stroke-width="0.15">IL7</text>
<text x="237.5" y="550.5" font-size="13.8" font-weight="normal" fill="#000" text-anchor="start" textLength="30" lengthAdjust="spacingAndGlyphs" stroke="#000" stroke-width="0.4" >T-ALL</text>
<line x1="236.3" y1="504" x2="273.2" y2="394.2" stroke="#000" stroke-width="1.1"/>
<line x1="236.3" y1="503.5" x2="273.2" y2="423.1" stroke="#000" stroke-width="1.1"/>
<line x1="236.3" y1="505" x2="273.2" y2="433.7" stroke="#000" stroke-width="1.1"/>
<line x1="236.3" y1="504" x2="273.2" y2="465.1" stroke="#000" stroke-width="1.1"/>
<line x1="236.3" y1="504" x2="273.2" y2="500.8" stroke="#000" stroke-width="1.1"/>
<line x1="236.3" y1="508" x2="273.2" y2="508.2" stroke="#000" stroke-width="1.1"/>
<line x1="236.3" y1="508.5" x2="273.2" y2="511.4" stroke="#000" stroke-width="1.1"/>
<line x1="236.3" y1="509" x2="273.2" y2="510" stroke="#000" stroke-width="1.1"/>
<line x1="236.3" y1="510" x2="273.2" y2="512" stroke="#000" stroke-width="1.1"/>
<line x1="236.3" y1="508" x2="273.2" y2="509" stroke="#000" stroke-width="1.1"/>
<line x1="236.3" y1="509" x2="273.2" y2="511" stroke="#000" stroke-width="1.1"/>
<rect x="234.5" y="500.2" width="3.6" height="3.6" fill="#e2e2e2" stroke="#c8c8c8" stroke-width="0.5"/>
<rect x="234.5" y="503.7" width="3.6" height="3.6" fill="#e2e2e2" stroke="#c8c8c8" stroke-width="0.5"/>
<rect x="234.5" y="507.2" width="3.6" height="3.6" fill="#e2e2e2" stroke="#c8c8c8" stroke-width="0.5"/>
<rect x="234.5" y="510.2" width="3.6" height="3.6" fill="#e2e2e2" stroke="#c8c8c8" stroke-width="0.5"/>
<rect x="270.6" y="391.59999999999997" width="5.2" height="5.2" fill="#1e8c5a"/>
<rect x="270.6" y="420.5" width="5.2" height="5.2" fill="#1e8c5a"/>
<rect x="270.6" y="431.09999999999997" width="5.2" height="5.2" fill="#1e8c5a"/>
<rect x="270.6" y="462.5" width="5.2" height="5.2" fill="#1e8c5a"/>
<rect x="270.6" y="498.2" width="5.2" height="5.2" fill="#1e8c5a"/>
<rect x="270.6" y="505.59999999999997" width="5.2" height="5.2" fill="#1e8c5a"/>
<rect x="270.6" y="508.79999999999995" width="5.2" height="5.2" fill="#1e8c5a"/>
<rect x="270.6" y="507.4" width="5.2" height="5.2" fill="#1e8c5a"/>
<rect x="270.6" y="509.4" width="5.2" height="5.2" fill="#1e8c5a"/>
<rect x="270.6" y="506.4" width="5.2" height="5.2" fill="#1e8c5a"/>
<rect x="270.6" y="508.4" width="5.2" height="5.2" fill="#1e8c5a"/>
<text x="327.3" y="326.3" font-size="15.8" font-weight="bold" fill="#000" text-anchor="start" textLength="12.7" lengthAdjust="spacingAndGlyphs" stroke="#000" stroke-width="0.45" >C</text>
<text x="384.5" y="325.6" font-size="13.9" font-weight="bold" fill="#000" text-anchor="start" textLength="78" lengthAdjust="spacingAndGlyphs" stroke="#000" stroke-width="0.4" >Delta pSTAT5</text>
<line x1="379.7" y1="347.95" x2="379.7" y2="518" stroke="#000" stroke-width="2.2"/><line x1="374.7" y1="517.00" x2="379.7" y2="517.00" stroke="#000" stroke-width="1.8"/><text x="371" y="520.5" font-size="9.8" font-weight="normal" fill="#000" text-anchor="end" textLength="4.9" lengthAdjust="spacingAndGlyphs" stroke="#000" stroke-width="0.5" >0</text><line x1="374.7" y1="460.92" x2="379.7" y2="460.92" stroke="#000" stroke-width="1.8"/><text x="371" y="464.4166666666667" font-size="9.8" font-weight="normal" fill="#000" text-anchor="end" textLength="19.6" lengthAdjust="spacingAndGlyphs" stroke="#000" stroke-width="0.5" >2000</text><line x1="374.7" y1="404.83" x2="379.7" y2="404.83" stroke="#000" stroke-width="1.8"/><text x="371" y="408.3333333333333" font-size="9.8" font-weight="normal" fill="#000" text-anchor="end" textLength="19.6" lengthAdjust="spacingAndGlyphs" stroke="#000" stroke-width="0.5" >4000</text><line x1="374.7" y1="348.75" x2="379.7" y2="348.75" stroke="#000" stroke-width="1.8"/><text x="371" y="352.25" font-size="9.8" font-weight="normal" fill="#000" text-anchor="end" textLength="19.6" lengthAdjust="spacingAndGlyphs" stroke="#000" stroke-width="0.5" >6000</text><line x1="376" y1="517.1" x2="467" y2="517.1" stroke="#000" stroke-width="2.2"/><text transform="translate(342.8,434.7) rotate(-90)" x="0" y="0" font-size="11" font-weight="normal" text-anchor="middle" textLength="51" lengthAdjust="spacingAndGlyphs" fill="#000" stroke="#000" stroke-width="0.5">pSTAT5 MFI</text>
<path d="M401.3,517 L401.3,521 M445.5,517 L445.5,521" stroke="#000" stroke-width="1.8"/>
<text transform="translate(403.5,526.5) rotate(-45)" x="0" y="0" font-size="10.8" font-weight="normal" text-anchor="end" textLength="32.5" lengthAdjust="spacingAndGlyphs" fill="#000" stroke="#000" stroke-width="0.3">ETP-ALL</text>
<text transform="translate(447.5,526) rotate(-45)" x="0" y="0" font-size="10.8" font-weight="normal" text-anchor="end" textLength="22.5" lengthAdjust="spacingAndGlyphs" fill="#000" stroke="#000" stroke-width="0.3">T-ALL</text>
<line x1="400.5" y1="357" x2="443.8" y2="357" stroke="#000" stroke-width="1.5"/>
<text x="410.5" y="354.8" font-size="9.4" fill="#000" stroke="#000" stroke-width="0.35" textLength="25.8" lengthAdjust="spacingAndGlyphs"><tspan font-style="italic">P</tspan>=0.012</text>
<rect x="398.65" y="362.9" width="5.2" height="5.2" fill="#000"/>
<rect x="398.65" y="384.9" width="5.2" height="5.2" fill="#000"/>
<rect x="398.65" y="395.65" width="5.2" height="5.2" fill="#000"/>
<rect x="398.65" y="410.4" width="5.2" height="5.2" fill="#000"/>
<rect x="391.65" y="471.15" width="5.2" height="5.2" fill="#000"/>
<rect x="398.65" y="464.9" width="5.2" height="5.2" fill="#000"/>
<rect x="398.65" y="474.4" width="5.2" height="5.2" fill="#000"/>
<rect x="405.4" y="474.4" width="5.2" height="5.2" fill="#000"/>
<path d="M386.2,432 L416.3,432 M401.3,413 L401.3,448.8 M397.5,448.8 L405.5,448.8 M397.5,415.5 L405.5,415.5" stroke="#000" stroke-width="2"/>
<circle cx="445.5" cy="404.25" r="2.7" fill="#000"/>
<circle cx="448.75" cy="432" r="2.7" fill="#000"/>
<circle cx="441.25" cy="439.5" r="2.7" fill="#000"/>
<circle cx="445.5" cy="476.5" r="2.7" fill="#000"/>
<circle cx="432.5" cy="514.9000000000001" r="2.7" fill="#000"/>
<circle cx="436.05" cy="515.6" r="2.7" fill="#000"/>
<circle cx="439.6" cy="514.9000000000001" r="2.7" fill="#000"/>
<circle cx="443.15" cy="515.6" r="2.7" fill="#000"/>
<circle cx="446.7" cy="514.9000000000001" r="2.7" fill="#000"/>
<circle cx="450.25" cy="515.6" r="2.7" fill="#000"/>
<circle cx="453.8" cy="514.9000000000001" r="2.7" fill="#000"/>
<circle cx="457.35" cy="515.6" r="2.7" fill="#000"/>
<path d="M430.8,487.5 L460,487.5 M445.5,475.5 L445.5,500.5 M441.5,475.5 L449.5,475.5 M441.5,500.5 L449.5,500.5" stroke="#000" stroke-width="2"/>
</svg></body></html>
